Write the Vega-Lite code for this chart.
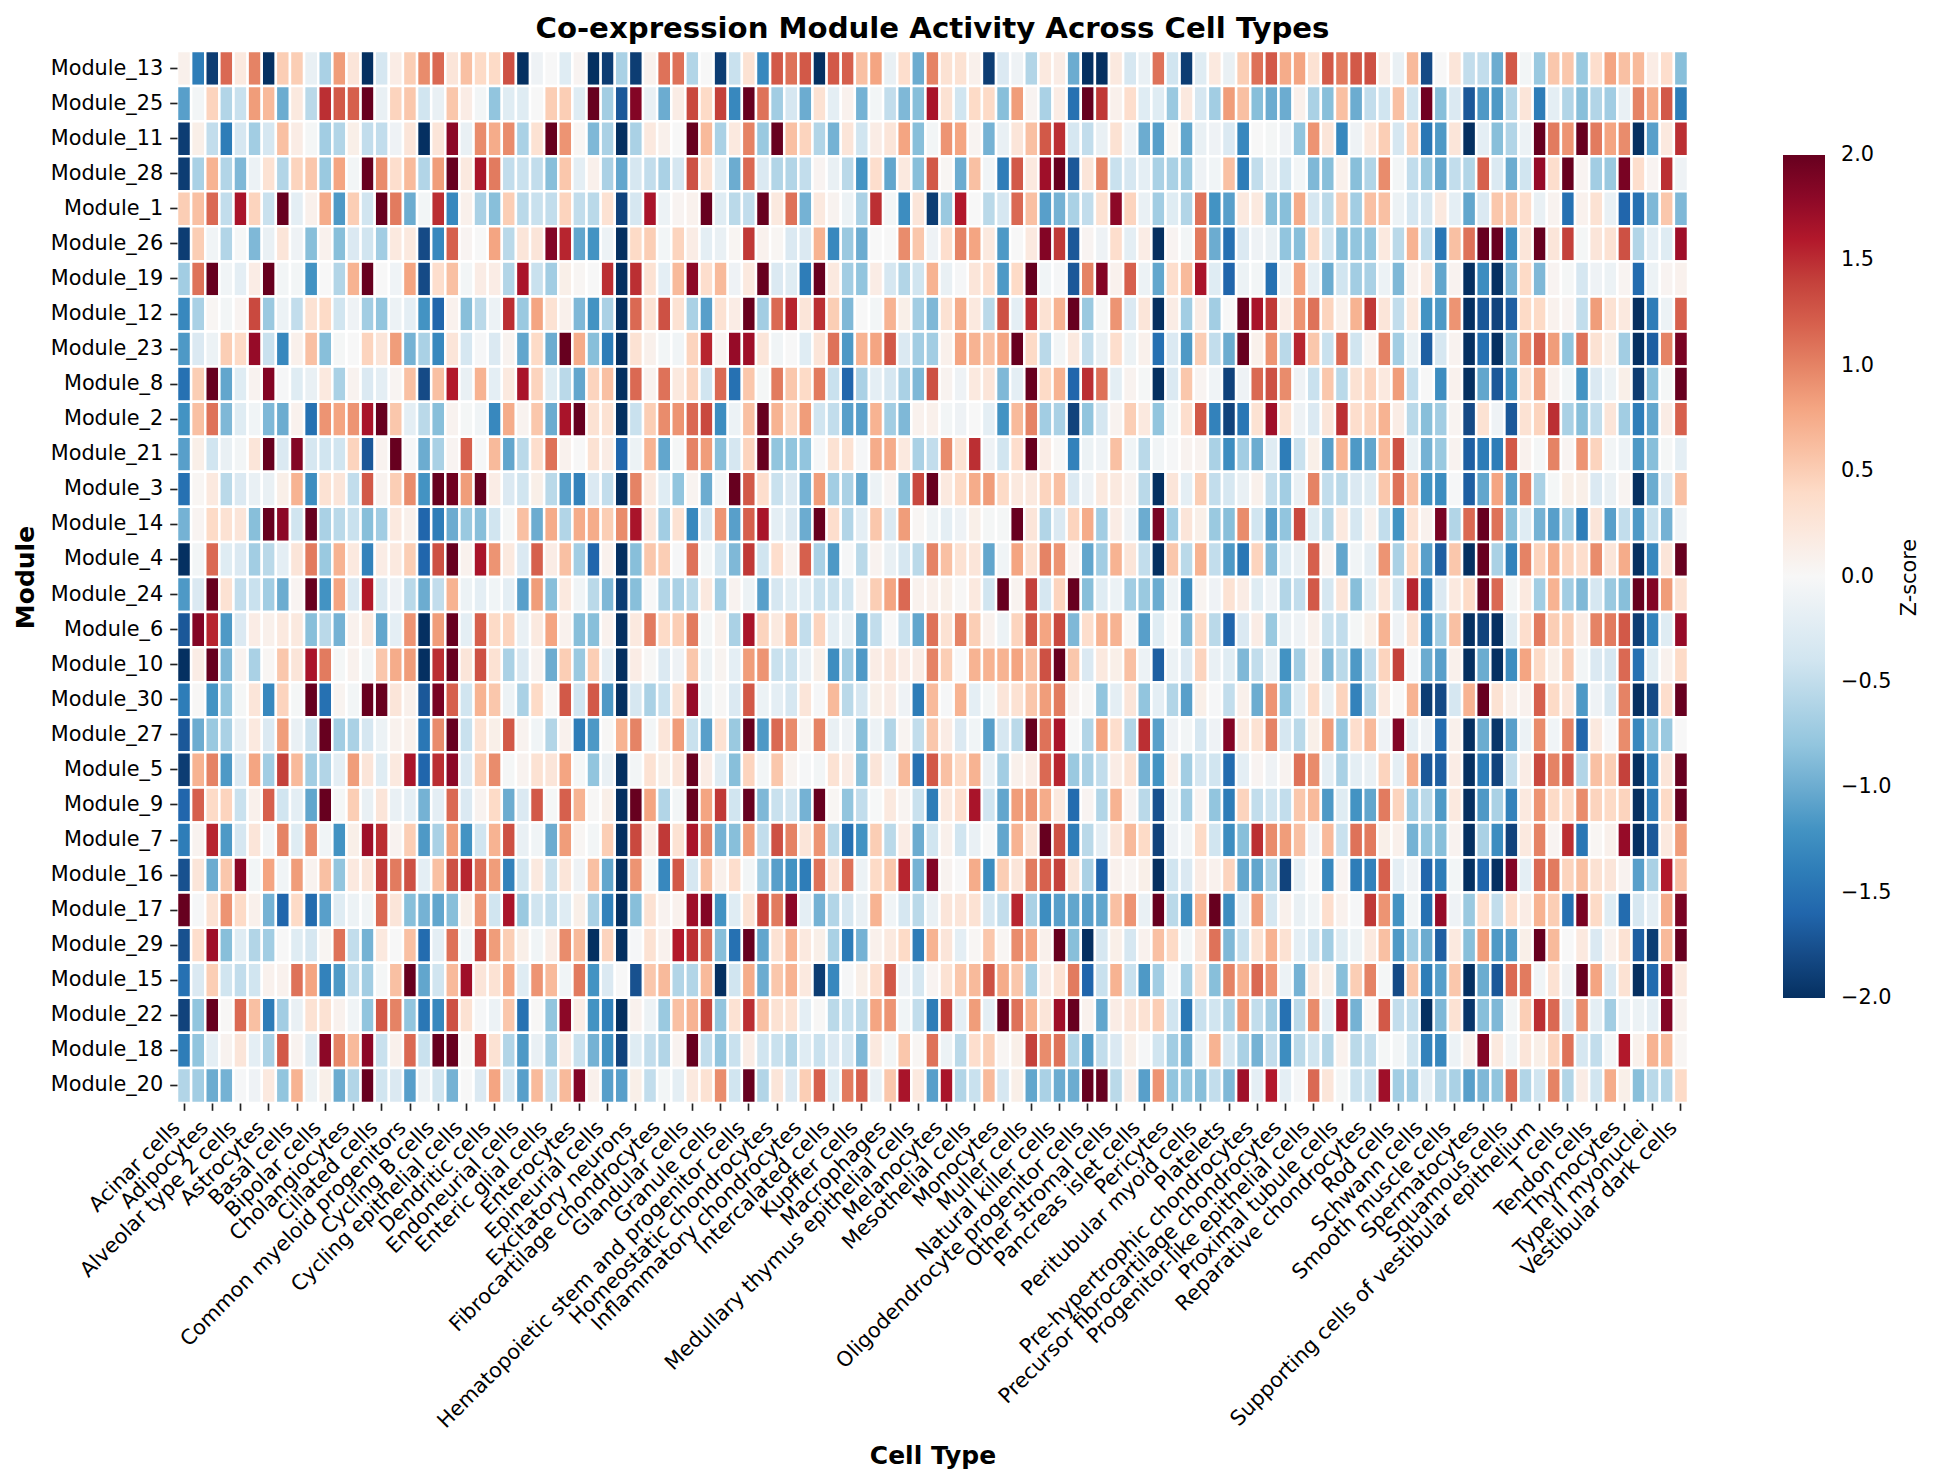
{"$schema":"https://vega.github.io/schema/vega-lite/v6.json","autosize":{"type":"none"},"padding":{"left":177,"top":51,"right":245,"bottom":378},"width":1511,"height":1052,"background":"white","title":{"text":"Co-expression Module Activity Across Cell Types","font":"DejaVu Sans","fontSize":29.2,"fontWeight":"bold","anchor":"middle","offset":6,"color":"black"},"config":{"view":{"stroke":null},"axis":{"labelFont":"DejaVu Sans","titleFont":"DejaVu Sans","labelFontSize":20.8,"titleFontSize":25,"titleFontWeight":"bold","tickSize":7.3,"tickWidth":1.67,"tickColor":"#222","labelColor":"black","titleColor":"black","domain":false,"grid":false,"labelPadding":7,"labelOverlap":false,"labelLimit":1000},"legend":{"labelFont":"DejaVu Sans","labelFontSize":20.8,"labelColor":"black"}},"data":{"values":[
{"m":13,"c":0,"z":0.1},{"m":13,"c":1,"z":-1.4},{"m":13,"c":2,"z":-1.9},{"m":13,"c":3,"z":1.15},{"m":13,"c":4,"z":0.2},{"m":13,"c":5,"z":1},{"m":13,"c":6,"z":-2},{"m":13,"c":7,"z":0.5},{"m":13,"c":8,"z":0.5},{"m":13,"c":9,"z":-0.15},{"m":13,"c":10,"z":-0.65},{"m":13,"c":11,"z":0.85},{"m":13,"c":12,"z":0.25},{"m":13,"c":13,"z":-2},{"m":13,"c":14,"z":-0.35},{"m":13,"c":15,"z":0.15},{"m":13,"c":16,"z":0.5},{"m":13,"c":17,"z":0.95},{"m":13,"c":18,"z":1.15},{"m":13,"c":19,"z":0.25},{"m":13,"c":20,"z":0.6},{"m":13,"c":21,"z":0.4},{"m":13,"c":22,"z":0.4},{"m":13,"c":23,"z":1.3},{"m":13,"c":24,"z":-2},{"m":13,"c":25,"z":-0.1},{"m":13,"c":26,"z":0},{"m":13,"c":27,"z":-0.25},{"m":13,"c":28,"z":0.05},{"m":13,"c":29,"z":-2},{"m":13,"c":30,"z":-1.9},{"m":13,"c":31,"z":-0.65},{"m":13,"c":32,"z":-1.9},{"m":13,"c":33,"z":0.08},{"m":13,"c":34,"z":1.1},{"m":13,"c":35,"z":1.1},{"m":13,"c":36,"z":-0.6},{"m":13,"c":37,"z":0},{"m":13,"c":38,"z":-1.9},{"m":13,"c":39,"z":-0.45},{"m":13,"c":40,"z":0.3},{"m":13,"c":41,"z":-1.3},{"m":13,"c":42,"z":1.25},{"m":13,"c":43,"z":1.1},{"m":13,"c":44,"z":1.25},{"m":13,"c":45,"z":-2},{"m":13,"c":46,"z":1.25},{"m":13,"c":47,"z":1.2},{"m":13,"c":48,"z":0.6},{"m":13,"c":49,"z":0.8},{"m":13,"c":50,"z":-0.15},{"m":13,"c":51,"z":0.35},{"m":13,"c":52,"z":-1},{"m":13,"c":53,"z":1},{"m":13,"c":54,"z":0.3},{"m":13,"c":55,"z":0.3},{"m":13,"c":56,"z":0.1},{"m":13,"c":57,"z":-1.9},{"m":13,"c":58,"z":-0.3},{"m":13,"c":59,"z":-0.1},{"m":13,"c":60,"z":-0.6},{"m":13,"c":61,"z":0.2},{"m":13,"c":62,"z":0.15},{"m":13,"c":63,"z":-1},{"m":13,"c":64,"z":-2},{"m":13,"c":65,"z":-2},{"m":13,"c":66,"z":0.2},{"m":13,"c":67,"z":-0.35},{"m":13,"c":68,"z":-0.15},{"m":13,"c":69,"z":1.1},{"m":13,"c":70,"z":-0.4},{"m":13,"c":71,"z":-1.9},{"m":13,"c":72,"z":-0.25},{"m":13,"c":73,"z":0.2},{"m":13,"c":74,"z":-0.15},{"m":13,"c":75,"z":0.5},{"m":13,"c":76,"z":1.1},{"m":13,"c":77,"z":1.25},{"m":13,"c":78,"z":0.75},{"m":13,"c":79,"z":0.8},{"m":13,"c":80,"z":0.3},{"m":13,"c":81,"z":1.25},{"m":13,"c":82,"z":1.05},{"m":13,"c":83,"z":1.25},{"m":13,"c":84,"z":1.3},{"m":13,"c":85,"z":0.15},{"m":13,"c":86,"z":-0.15},{"m":13,"c":87,"z":0.65},{"m":13,"c":88,"z":-1.8},{"m":13,"c":89,"z":0},{"m":13,"c":90,"z":0.25},{"m":13,"c":91,"z":-0.5},{"m":13,"c":92,"z":-0.5},{"m":13,"c":93,"z":-1},{"m":13,"c":94,"z":1.25},{"m":13,"c":95,"z":-0.05},{"m":13,"c":96,"z":-0.75},{"m":13,"c":97,"z":0.55},{"m":13,"c":98,"z":0.55},{"m":13,"c":99,"z":-0.75},{"m":13,"c":100,"z":0.35},{"m":13,"c":101,"z":0.8},{"m":13,"c":102,"z":0.6},{"m":13,"c":103,"z":0.65},{"m":13,"c":104,"z":0.15},{"m":13,"c":105,"z":0.35},{"m":13,"c":106,"z":-0.85},
{"m":25,"c":0,"z":-1.1},{"m":25,"c":1,"z":-0.05},{"m":25,"c":2,"z":0.45},{"m":25,"c":3,"z":-0.6},{"m":25,"c":4,"z":-0.45},{"m":25,"c":5,"z":0.85},{"m":25,"c":6,"z":0.65},{"m":25,"c":7,"z":-1},{"m":25,"c":8,"z":0.2},{"m":25,"c":9,"z":-0.55},{"m":25,"c":10,"z":1.5},{"m":25,"c":11,"z":1.25},{"m":25,"c":12,"z":1.2},{"m":25,"c":13,"z":2},{"m":25,"c":14,"z":-0.15},{"m":25,"c":15,"z":0.45},{"m":25,"c":16,"z":0.55},{"m":25,"c":17,"z":-0.4},{"m":25,"c":18,"z":-0.15},{"m":25,"c":19,"z":0.55},{"m":25,"c":20,"z":0.15},{"m":25,"c":21,"z":-0.05},{"m":25,"c":22,"z":-0.8},{"m":25,"c":23,"z":-0.25},{"m":25,"c":24,"z":-0.25},{"m":25,"c":25,"z":0},{"m":25,"c":26,"z":0.5},{"m":25,"c":27,"z":0.5},{"m":25,"c":28,"z":-0.25},{"m":25,"c":29,"z":2},{"m":25,"c":30,"z":-0.7},{"m":25,"c":31,"z":-1.7},{"m":25,"c":32,"z":1.85},{"m":25,"c":33,"z":-0.15},{"m":25,"c":34,"z":-1},{"m":25,"c":35,"z":0.15},{"m":25,"c":36,"z":1.35},{"m":25,"c":37,"z":0.4},{"m":25,"c":38,"z":1.4},{"m":25,"c":39,"z":-1.3},{"m":25,"c":40,"z":2},{"m":25,"c":41,"z":1.1},{"m":25,"c":42,"z":-0.7},{"m":25,"c":43,"z":-0.35},{"m":25,"c":44,"z":-1},{"m":25,"c":45,"z":0.3},{"m":25,"c":46,"z":-0.2},{"m":25,"c":47,"z":0.08},{"m":25,"c":48,"z":-0.95},{"m":25,"c":49,"z":-0.05},{"m":25,"c":50,"z":-0.5},{"m":25,"c":51,"z":-0.9},{"m":25,"c":52,"z":-0.85},{"m":25,"c":53,"z":1.65},{"m":25,"c":54,"z":0.3},{"m":25,"c":55,"z":-0.4},{"m":25,"c":56,"z":0.4},{"m":25,"c":57,"z":0.4},{"m":25,"c":58,"z":-0.85},{"m":25,"c":59,"z":0.85},{"m":25,"c":60,"z":0.05},{"m":25,"c":61,"z":-0.65},{"m":25,"c":62,"z":0.15},{"m":25,"c":63,"z":-1.5},{"m":25,"c":64,"z":2},{"m":25,"c":65,"z":1.45},{"m":25,"c":66,"z":0.1},{"m":25,"c":67,"z":0.35},{"m":25,"c":68,"z":-0.25},{"m":25,"c":69,"z":-0.25},{"m":25,"c":70,"z":-0.75},{"m":25,"c":71,"z":0.2},{"m":25,"c":72,"z":-0.35},{"m":25,"c":73,"z":-0.7},{"m":25,"c":74,"z":0.85},{"m":25,"c":75,"z":0.6},{"m":25,"c":76,"z":-0.85},{"m":25,"c":77,"z":-1},{"m":25,"c":78,"z":-1},{"m":25,"c":79,"z":0.1},{"m":25,"c":80,"z":-0.65},{"m":25,"c":81,"z":-0.85},{"m":25,"c":82,"z":0.6},{"m":25,"c":83,"z":-1},{"m":25,"c":84,"z":-0.5},{"m":25,"c":85,"z":-0.4},{"m":25,"c":86,"z":0.6},{"m":25,"c":87,"z":-0.4},{"m":25,"c":88,"z":1.95},{"m":25,"c":89,"z":-0.85},{"m":25,"c":90,"z":-0.3},{"m":25,"c":91,"z":-1.7},{"m":25,"c":92,"z":-1.15},{"m":25,"c":93,"z":-1.15},{"m":25,"c":94,"z":-0.6},{"m":25,"c":95,"z":0.25},{"m":25,"c":96,"z":-1.4},{"m":25,"c":97,"z":-0.2},{"m":25,"c":98,"z":-0.6},{"m":25,"c":99,"z":-0.85},{"m":25,"c":100,"z":-0.6},{"m":25,"c":101,"z":-0.7},{"m":25,"c":102,"z":-0.15},{"m":25,"c":103,"z":1},{"m":25,"c":104,"z":0.75},{"m":25,"c":105,"z":1.25},{"m":25,"c":106,"z":-1.4},
{"m":11,"c":0,"z":-1.9},{"m":11,"c":1,"z":0.12},{"m":11,"c":2,"z":-0.5},{"m":11,"c":3,"z":-1.4},{"m":11,"c":4,"z":-0.35},{"m":11,"c":5,"z":-0.7},{"m":11,"c":6,"z":-0.35},{"m":11,"c":7,"z":0.6},{"m":11,"c":8,"z":0.15},{"m":11,"c":9,"z":-0.03},{"m":11,"c":10,"z":-0.7},{"m":11,"c":11,"z":-0.6},{"m":11,"c":12,"z":0.12},{"m":11,"c":13,"z":-0.5},{"m":11,"c":14,"z":-0.5},{"m":11,"c":15,"z":-0.1},{"m":11,"c":16,"z":0.25},{"m":11,"c":17,"z":-2},{"m":11,"c":18,"z":0.25},{"m":11,"c":19,"z":1.8},{"m":11,"c":20,"z":-0.15},{"m":11,"c":21,"z":0.95},{"m":11,"c":22,"z":0.75},{"m":11,"c":23,"z":0.95},{"m":11,"c":24,"z":-0.65},{"m":11,"c":25,"z":0.3},{"m":11,"c":26,"z":2},{"m":11,"c":27,"z":0.9},{"m":11,"c":28,"z":0.03},{"m":11,"c":29,"z":-0.9},{"m":11,"c":30,"z":-0.65},{"m":11,"c":31,"z":-2},{"m":11,"c":32,"z":-0.65},{"m":11,"c":33,"z":0.2},{"m":11,"c":34,"z":0.1},{"m":11,"c":35,"z":0},{"m":11,"c":36,"z":2},{"m":11,"c":37,"z":0.65},{"m":11,"c":38,"z":-0.65},{"m":11,"c":39,"z":0.2},{"m":11,"c":40,"z":1},{"m":11,"c":41,"z":-0.75},{"m":11,"c":42,"z":2},{"m":11,"c":43,"z":0.6},{"m":11,"c":44,"z":0.45},{"m":11,"c":45,"z":-0.6},{"m":11,"c":46,"z":-0.95},{"m":11,"c":47,"z":0.25},{"m":11,"c":48,"z":-0.4},{"m":11,"c":49,"z":0.15},{"m":11,"c":50,"z":0.25},{"m":11,"c":51,"z":0.8},{"m":11,"c":52,"z":-0.85},{"m":11,"c":53,"z":-0.05},{"m":11,"c":54,"z":0.9},{"m":11,"c":55,"z":0.8},{"m":11,"c":56,"z":0.05},{"m":11,"c":57,"z":-0.95},{"m":11,"c":58,"z":-0.15},{"m":11,"c":59,"z":0.25},{"m":11,"c":60,"z":0.6},{"m":11,"c":61,"z":1.25},{"m":11,"c":62,"z":1.5},{"m":11,"c":63,"z":-0.35},{"m":11,"c":64,"z":-0.5},{"m":11,"c":65,"z":-0.15},{"m":11,"c":66,"z":0.3},{"m":11,"c":67,"z":-0.1},{"m":11,"c":68,"z":-1},{"m":11,"c":69,"z":-1.1},{"m":11,"c":70,"z":0.03},{"m":11,"c":71,"z":-1.05},{"m":11,"c":72,"z":-0.15},{"m":11,"c":73,"z":-0.1},{"m":11,"c":74,"z":-0.3},{"m":11,"c":75,"z":-1.3},{"m":11,"c":76,"z":0},{"m":11,"c":77,"z":-0.03},{"m":11,"c":78,"z":-0.1},{"m":11,"c":79,"z":-0.8},{"m":11,"c":80,"z":0.9},{"m":11,"c":81,"z":0.25},{"m":11,"c":82,"z":-1.3},{"m":11,"c":83,"z":-0.1},{"m":11,"c":84,"z":0.2},{"m":11,"c":85,"z":0.5},{"m":11,"c":86,"z":-0.35},{"m":11,"c":87,"z":0.45},{"m":11,"c":88,"z":-1.45},{"m":11,"c":89,"z":-1.15},{"m":11,"c":90,"z":0.25},{"m":11,"c":91,"z":-2},{"m":11,"c":92,"z":-0.2},{"m":11,"c":93,"z":-0.85},{"m":11,"c":94,"z":-0.6},{"m":11,"c":95,"z":-0.12},{"m":11,"c":96,"z":2},{"m":11,"c":97,"z":1.05},{"m":11,"c":98,"z":0.9},{"m":11,"c":99,"z":2},{"m":11,"c":100,"z":1.05},{"m":11,"c":101,"z":0.8},{"m":11,"c":102,"z":0.95},{"m":11,"c":103,"z":-2},{"m":11,"c":104,"z":-1.1},{"m":11,"c":105,"z":0.2},{"m":11,"c":106,"z":1.5},
{"m":28,"c":0,"z":-1.9},{"m":28,"c":1,"z":-0.65},{"m":28,"c":2,"z":0.7},{"m":28,"c":3,"z":-0.6},{"m":28,"c":4,"z":-0.9},{"m":28,"c":5,"z":-0.12},{"m":28,"c":6,"z":0.3},{"m":28,"c":7,"z":-0.6},{"m":28,"c":8,"z":0.45},{"m":28,"c":9,"z":0.55},{"m":28,"c":10,"z":-0.75},{"m":28,"c":11,"z":0.8},{"m":28,"c":12,"z":-0.05},{"m":28,"c":13,"z":2},{"m":28,"c":14,"z":0.95},{"m":28,"c":15,"z":0.35},{"m":28,"c":16,"z":0.65},{"m":28,"c":17,"z":-0.6},{"m":28,"c":18,"z":0.85},{"m":28,"c":19,"z":2},{"m":28,"c":20,"z":0.2},{"m":28,"c":21,"z":1.65},{"m":28,"c":22,"z":1.05},{"m":28,"c":23,"z":-0.5},{"m":28,"c":24,"z":-0.45},{"m":28,"c":25,"z":-0.5},{"m":28,"c":26,"z":-0.85},{"m":28,"c":27,"z":0.55},{"m":28,"c":28,"z":-0.2},{"m":28,"c":29,"z":0.1},{"m":28,"c":30,"z":-0.65},{"m":28,"c":31,"z":-1.05},{"m":28,"c":32,"z":-0.35},{"m":28,"c":33,"z":-0.5},{"m":28,"c":34,"z":-0.65},{"m":28,"c":35,"z":-0.35},{"m":28,"c":36,"z":1.3},{"m":28,"c":37,"z":0.3},{"m":28,"c":38,"z":-0.25},{"m":28,"c":39,"z":-1},{"m":28,"c":40,"z":1.15},{"m":28,"c":41,"z":-0.3},{"m":28,"c":42,"z":-0.6},{"m":28,"c":43,"z":-0.6},{"m":28,"c":44,"z":-0.5},{"m":28,"c":45,"z":0.05},{"m":28,"c":46,"z":-0.15},{"m":28,"c":47,"z":-0.55},{"m":28,"c":48,"z":-1.2},{"m":28,"c":49,"z":0.35},{"m":28,"c":50,"z":-1.05},{"m":28,"c":51,"z":0.2},{"m":28,"c":52,"z":-0.85},{"m":28,"c":53,"z":1.25},{"m":28,"c":54,"z":0.03},{"m":28,"c":55,"z":-1},{"m":28,"c":56,"z":0.6},{"m":28,"c":57,"z":-0.07},{"m":28,"c":58,"z":-1.4},{"m":28,"c":59,"z":1.25},{"m":28,"c":60,"z":0.2},{"m":28,"c":61,"z":1.7},{"m":28,"c":62,"z":2},{"m":28,"c":63,"z":-1.7},{"m":28,"c":64,"z":0.25},{"m":28,"c":65,"z":1},{"m":28,"c":66,"z":-0.45},{"m":28,"c":67,"z":-0.35},{"m":28,"c":68,"z":-0.2},{"m":28,"c":69,"z":-0.65},{"m":28,"c":70,"z":-0.65},{"m":28,"c":71,"z":-0.75},{"m":28,"c":72,"z":-0.1},{"m":28,"c":73,"z":-0.07},{"m":28,"c":74,"z":0.6},{"m":28,"c":75,"z":-1.4},{"m":28,"c":76,"z":-0.5},{"m":28,"c":77,"z":-0.15},{"m":28,"c":78,"z":-0.4},{"m":28,"c":79,"z":-0.05},{"m":28,"c":80,"z":-0.9},{"m":28,"c":81,"z":-0.85},{"m":28,"c":82,"z":0.1},{"m":28,"c":83,"z":-0.85},{"m":28,"c":84,"z":-0.6},{"m":28,"c":85,"z":0.95},{"m":28,"c":86,"z":-0.05},{"m":28,"c":87,"z":-0.5},{"m":28,"c":88,"z":-0.75},{"m":28,"c":89,"z":-1.05},{"m":28,"c":90,"z":-0.5},{"m":28,"c":91,"z":-0.6},{"m":28,"c":92,"z":1.2},{"m":28,"c":93,"z":-0.3},{"m":28,"c":94,"z":-1},{"m":28,"c":95,"z":-0.4},{"m":28,"c":96,"z":1.75},{"m":28,"c":97,"z":0.35},{"m":28,"c":98,"z":2},{"m":28,"c":99,"z":0.05},{"m":28,"c":100,"z":-0.7},{"m":28,"c":101,"z":-0.75},{"m":28,"c":102,"z":1.9},{"m":28,"c":103,"z":0.35},{"m":28,"c":104,"z":0.05},{"m":28,"c":105,"z":1.5},{"m":28,"c":106,"z":-0.1},
{"m":1,"c":0,"z":0.5},{"m":1,"c":1,"z":0.6},{"m":1,"c":2,"z":1.15},{"m":1,"c":3,"z":-0.5},{"m":1,"c":4,"z":1.65},{"m":1,"c":5,"z":0.45},{"m":1,"c":6,"z":-0.45},{"m":1,"c":7,"z":2},{"m":1,"c":8,"z":-0.2},{"m":1,"c":9,"z":0.1},{"m":1,"c":10,"z":0.75},{"m":1,"c":11,"z":-1.15},{"m":1,"c":12,"z":0.5},{"m":1,"c":13,"z":-0.4},{"m":1,"c":14,"z":2},{"m":1,"c":15,"z":1.05},{"m":1,"c":16,"z":-1},{"m":1,"c":17,"z":-0.05},{"m":1,"c":18,"z":1.5},{"m":1,"c":19,"z":-1.3},{"m":1,"c":20,"z":0.1},{"m":1,"c":21,"z":-0.65},{"m":1,"c":22,"z":-0.85},{"m":1,"c":23,"z":0.5},{"m":1,"c":24,"z":-0.55},{"m":1,"c":25,"z":-0.45},{"m":1,"c":26,"z":-0.5},{"m":1,"c":27,"z":0.45},{"m":1,"c":28,"z":-0.5},{"m":1,"c":29,"z":-0.55},{"m":1,"c":30,"z":0.3},{"m":1,"c":31,"z":-1.85},{"m":1,"c":32,"z":-0.35},{"m":1,"c":33,"z":1.65},{"m":1,"c":34,"z":-0.12},{"m":1,"c":35,"z":0.05},{"m":1,"c":36,"z":0.08},{"m":1,"c":37,"z":2},{"m":1,"c":38,"z":-0.25},{"m":1,"c":39,"z":-0.55},{"m":1,"c":40,"z":-0.5},{"m":1,"c":41,"z":2},{"m":1,"c":42,"z":0.2},{"m":1,"c":43,"z":1.1},{"m":1,"c":44,"z":-0.95},{"m":1,"c":45,"z":0.2},{"m":1,"c":46,"z":0.07},{"m":1,"c":47,"z":-0.12},{"m":1,"c":48,"z":-0.65},{"m":1,"c":49,"z":1.5},{"m":1,"c":50,"z":-0.05},{"m":1,"c":51,"z":-1.25},{"m":1,"c":52,"z":0.25},{"m":1,"c":53,"z":-1.9},{"m":1,"c":54,"z":-0.75},{"m":1,"c":55,"z":1.6},{"m":1,"c":56,"z":0},{"m":1,"c":57,"z":-0.55},{"m":1,"c":58,"z":-0.35},{"m":1,"c":59,"z":1.15},{"m":1,"c":60,"z":0.6},{"m":1,"c":61,"z":-1.1},{"m":1,"c":62,"z":-0.95},{"m":1,"c":63,"z":-0.65},{"m":1,"c":64,"z":-0.5},{"m":1,"c":65,"z":0.3},{"m":1,"c":66,"z":1.8},{"m":1,"c":67,"z":0.45},{"m":1,"c":68,"z":-0.15},{"m":1,"c":69,"z":-0.7},{"m":1,"c":70,"z":-0.25},{"m":1,"c":71,"z":-0.6},{"m":1,"c":72,"z":1.1},{"m":1,"c":73,"z":-1.2},{"m":1,"c":74,"z":-1.1},{"m":1,"c":75,"z":0.2},{"m":1,"c":76,"z":0.2},{"m":1,"c":77,"z":-0.85},{"m":1,"c":78,"z":-0.85},{"m":1,"c":79,"z":0.75},{"m":1,"c":80,"z":-0.35},{"m":1,"c":81,"z":-0.55},{"m":1,"c":82,"z":0.5},{"m":1,"c":83,"z":-0.7},{"m":1,"c":84,"z":0.6},{"m":1,"c":85,"z":0.6},{"m":1,"c":86,"z":-0.12},{"m":1,"c":87,"z":-0.35},{"m":1,"c":88,"z":-0.35},{"m":1,"c":89,"z":0.2},{"m":1,"c":90,"z":-0.2},{"m":1,"c":91,"z":-1.05},{"m":1,"c":92,"z":-0.3},{"m":1,"c":93,"z":0.55},{"m":1,"c":94,"z":0.55},{"m":1,"c":95,"z":0.35},{"m":1,"c":96,"z":-0.15},{"m":1,"c":97,"z":0.07},{"m":1,"c":98,"z":-1.5},{"m":1,"c":99,"z":0.08},{"m":1,"c":100,"z":0.3},{"m":1,"c":101,"z":-0.15},{"m":1,"c":102,"z":-1.6},{"m":1,"c":103,"z":-1.5},{"m":1,"c":104,"z":-0.9},{"m":1,"c":105,"z":0.55},{"m":1,"c":106,"z":-0.9},
{"m":26,"c":0,"z":-1.9},{"m":26,"c":1,"z":0.5},{"m":26,"c":2,"z":-0.07},{"m":26,"c":3,"z":-0.6},{"m":26,"c":4,"z":-0.03},{"m":26,"c":5,"z":-0.9},{"m":26,"c":6,"z":-0.15},{"m":26,"c":7,"z":0.25},{"m":26,"c":8,"z":-0.1},{"m":26,"c":9,"z":-0.85},{"m":26,"c":10,"z":0.08},{"m":26,"c":11,"z":-0.85},{"m":26,"c":12,"z":-0.3},{"m":26,"c":13,"z":-0.4},{"m":26,"c":14,"z":-0.7},{"m":26,"c":15,"z":0.2},{"m":26,"c":16,"z":0.2},{"m":26,"c":17,"z":-1.8},{"m":26,"c":18,"z":-1.3},{"m":26,"c":19,"z":1.2},{"m":26,"c":20,"z":0.05},{"m":26,"c":21,"z":0},{"m":26,"c":22,"z":0.8},{"m":26,"c":23,"z":-0.55},{"m":26,"c":24,"z":0.25},{"m":26,"c":25,"z":0.25},{"m":26,"c":26,"z":1.85},{"m":26,"c":27,"z":1.55},{"m":26,"c":28,"z":-1.05},{"m":26,"c":29,"z":-1.2},{"m":26,"c":30,"z":-0.12},{"m":26,"c":31,"z":-2},{"m":26,"c":32,"z":0.4},{"m":26,"c":33,"z":0.5},{"m":26,"c":34,"z":-0.05},{"m":26,"c":35,"z":0.45},{"m":26,"c":36,"z":0.15},{"m":26,"c":37,"z":-0.2},{"m":26,"c":38,"z":-0.15},{"m":26,"c":39,"z":0.04},{"m":26,"c":40,"z":1.45},{"m":26,"c":41,"z":0.08},{"m":26,"c":42,"z":0.03},{"m":26,"c":43,"z":-0.3},{"m":26,"c":44,"z":-0.3},{"m":26,"c":45,"z":0.7},{"m":26,"c":46,"z":-1.3},{"m":26,"c":47,"z":-0.75},{"m":26,"c":48,"z":-1},{"m":26,"c":49,"z":0},{"m":26,"c":50,"z":0},{"m":26,"c":51,"z":0.95},{"m":26,"c":52,"z":0.55},{"m":26,"c":53,"z":-0.1},{"m":26,"c":54,"z":0.35},{"m":26,"c":55,"z":1},{"m":26,"c":56,"z":0.8},{"m":26,"c":57,"z":0.2},{"m":26,"c":58,"z":-1.15},{"m":26,"c":59,"z":0},{"m":26,"c":60,"z":0.2},{"m":26,"c":61,"z":1.85},{"m":26,"c":62,"z":1.45},{"m":26,"c":63,"z":-1.7},{"m":26,"c":64,"z":0.05},{"m":26,"c":65,"z":-0.1},{"m":26,"c":66,"z":0.35},{"m":26,"c":67,"z":-0.2},{"m":26,"c":68,"z":0.15},{"m":26,"c":69,"z":-2},{"m":26,"c":70,"z":0.05},{"m":26,"c":71,"z":-0.05},{"m":26,"c":72,"z":1.05},{"m":26,"c":73,"z":-1},{"m":26,"c":74,"z":-1.5},{"m":26,"c":75,"z":-0.3},{"m":26,"c":76,"z":-0.1},{"m":26,"c":77,"z":-0.15},{"m":26,"c":78,"z":-0.8},{"m":26,"c":79,"z":-0.85},{"m":26,"c":80,"z":0.4},{"m":26,"c":81,"z":-0.4},{"m":26,"c":82,"z":-0.85},{"m":26,"c":83,"z":-0.8},{"m":26,"c":84,"z":-0.8},{"m":26,"c":85,"z":0.2},{"m":26,"c":86,"z":-0.55},{"m":26,"c":87,"z":0.7},{"m":26,"c":88,"z":-0.5},{"m":26,"c":89,"z":-1.45},{"m":26,"c":90,"z":0.6},{"m":26,"c":91,"z":1.1},{"m":26,"c":92,"z":2},{"m":26,"c":93,"z":2},{"m":26,"c":94,"z":-1.25},{"m":26,"c":95,"z":0.25},{"m":26,"c":96,"z":2},{"m":26,"c":97,"z":0.25},{"m":26,"c":98,"z":1.4},{"m":26,"c":99,"z":-0.03},{"m":26,"c":100,"z":0.25},{"m":26,"c":101,"z":0.3},{"m":26,"c":102,"z":1.3},{"m":26,"c":103,"z":-0.6},{"m":26,"c":104,"z":-0.2},{"m":26,"c":105,"z":-0.25},{"m":26,"c":106,"z":1.7},
{"m":19,"c":0,"z":-0.7},{"m":19,"c":1,"z":1.1},{"m":19,"c":2,"z":2},{"m":19,"c":3,"z":-0.07},{"m":19,"c":4,"z":-0.2},{"m":19,"c":5,"z":0.15},{"m":19,"c":6,"z":2},{"m":19,"c":7,"z":-0.05},{"m":19,"c":8,"z":-0.05},{"m":19,"c":9,"z":-1.2},{"m":19,"c":10,"z":0},{"m":19,"c":11,"z":-0.6},{"m":19,"c":12,"z":0.7},{"m":19,"c":13,"z":2},{"m":19,"c":14,"z":0},{"m":19,"c":15,"z":-0.08},{"m":19,"c":16,"z":0.8},{"m":19,"c":17,"z":-1.8},{"m":19,"c":18,"z":0.35},{"m":19,"c":19,"z":0.6},{"m":19,"c":20,"z":-0.05},{"m":19,"c":21,"z":0.15},{"m":19,"c":22,"z":0.15},{"m":19,"c":23,"z":-0.6},{"m":19,"c":24,"z":1.65},{"m":19,"c":25,"z":-0.45},{"m":19,"c":26,"z":-0.7},{"m":19,"c":27,"z":0.12},{"m":19,"c":28,"z":0.03},{"m":19,"c":29,"z":0},{"m":19,"c":30,"z":1.5},{"m":19,"c":31,"z":-2},{"m":19,"c":32,"z":1.5},{"m":19,"c":33,"z":0.3},{"m":19,"c":34,"z":-0.2},{"m":19,"c":35,"z":0.65},{"m":19,"c":36,"z":1.8},{"m":19,"c":37,"z":0.35},{"m":19,"c":38,"z":0.65},{"m":19,"c":39,"z":-0.1},{"m":19,"c":40,"z":0.2},{"m":19,"c":41,"z":2},{"m":19,"c":42,"z":-0.3},{"m":19,"c":43,"z":-0.25},{"m":19,"c":44,"z":-1.4},{"m":19,"c":45,"z":2},{"m":19,"c":46,"z":0.2},{"m":19,"c":47,"z":-0.7},{"m":19,"c":48,"z":-0.8},{"m":19,"c":49,"z":0.15},{"m":19,"c":50,"z":-0.35},{"m":19,"c":51,"z":-0.6},{"m":19,"c":52,"z":-0.4},{"m":19,"c":53,"z":0.7},{"m":19,"c":54,"z":-0.15},{"m":19,"c":55,"z":-0.02},{"m":19,"c":56,"z":0.25},{"m":19,"c":57,"z":0.35},{"m":19,"c":58,"z":-1.15},{"m":19,"c":59,"z":0.4},{"m":19,"c":60,"z":2},{"m":19,"c":61,"z":-0.07},{"m":19,"c":62,"z":-0.02},{"m":19,"c":63,"z":-1.7},{"m":19,"c":64,"z":1},{"m":19,"c":65,"z":1.85},{"m":19,"c":66,"z":0.08},{"m":19,"c":67,"z":1.2},{"m":19,"c":68,"z":-0.12},{"m":19,"c":69,"z":-1.05},{"m":19,"c":70,"z":0.35},{"m":19,"c":71,"z":0.65},{"m":19,"c":72,"z":1.65},{"m":19,"c":73,"z":-0.25},{"m":19,"c":74,"z":-1.6},{"m":19,"c":75,"z":-0.12},{"m":19,"c":76,"z":-0.05},{"m":19,"c":77,"z":-1.5},{"m":19,"c":78,"z":-0.12},{"m":19,"c":79,"z":0.8},{"m":19,"c":80,"z":-0.2},{"m":19,"c":81,"z":-1},{"m":19,"c":82,"z":-0.4},{"m":19,"c":83,"z":-0.7},{"m":19,"c":84,"z":-0.65},{"m":19,"c":85,"z":-0.12},{"m":19,"c":86,"z":-0.9},{"m":19,"c":87,"z":0.07},{"m":19,"c":88,"z":0.2},{"m":19,"c":89,"z":-1.05},{"m":19,"c":90,"z":0.07},{"m":19,"c":91,"z":-2},{"m":19,"c":92,"z":-1.25},{"m":19,"c":93,"z":-2},{"m":19,"c":94,"z":-0.95},{"m":19,"c":95,"z":0.4},{"m":19,"c":96,"z":-0.9},{"m":19,"c":97,"z":0.05},{"m":19,"c":98,"z":-0.03},{"m":19,"c":99,"z":-0.35},{"m":19,"c":100,"z":-0.1},{"m":19,"c":101,"z":-0.12},{"m":19,"c":102,"z":0.05},{"m":19,"c":103,"z":-1.55},{"m":19,"c":104,"z":-0.12},{"m":19,"c":105,"z":0.05},{"m":19,"c":106,"z":0.08},
{"m":12,"c":0,"z":-1.3},{"m":12,"c":1,"z":-0.65},{"m":12,"c":2,"z":0.03},{"m":12,"c":3,"z":-0.05},{"m":12,"c":4,"z":0.05},{"m":12,"c":5,"z":1.35},{"m":12,"c":6,"z":-0.75},{"m":12,"c":7,"z":-0.12},{"m":12,"c":8,"z":-0.5},{"m":12,"c":9,"z":0.3},{"m":12,"c":10,"z":0.4},{"m":12,"c":11,"z":-0.4},{"m":12,"c":12,"z":-0.1},{"m":12,"c":13,"z":-0.7},{"m":12,"c":14,"z":-0.8},{"m":12,"c":15,"z":-0.12},{"m":12,"c":16,"z":-0.2},{"m":12,"c":17,"z":-1.2},{"m":12,"c":18,"z":-1.6},{"m":12,"c":19,"z":0.08},{"m":12,"c":20,"z":-0.85},{"m":12,"c":21,"z":-0.55},{"m":12,"c":22,"z":-0.12},{"m":12,"c":23,"z":1.5},{"m":12,"c":24,"z":-0.75},{"m":12,"c":25,"z":0.8},{"m":12,"c":26,"z":0.3},{"m":12,"c":27,"z":0.1},{"m":12,"c":28,"z":-0.9},{"m":12,"c":29,"z":-1.2},{"m":12,"c":30,"z":-0.65},{"m":12,"c":31,"z":-2},{"m":12,"c":32,"z":1.15},{"m":12,"c":33,"z":0.3},{"m":12,"c":34,"z":1.3},{"m":12,"c":35,"z":0.3},{"m":12,"c":36,"z":-0.65},{"m":12,"c":37,"z":-1.1},{"m":12,"c":38,"z":0.3},{"m":12,"c":39,"z":0.15},{"m":12,"c":40,"z":2},{"m":12,"c":41,"z":-0.7},{"m":12,"c":42,"z":1.15},{"m":12,"c":43,"z":1.55},{"m":12,"c":44,"z":0.25},{"m":12,"c":45,"z":1.5},{"m":12,"c":46,"z":0.5},{"m":12,"c":47,"z":-0.9},{"m":12,"c":48,"z":0},{"m":12,"c":49,"z":-0.05},{"m":12,"c":50,"z":0.7},{"m":12,"c":51,"z":0.12},{"m":12,"c":52,"z":-0.7},{"m":12,"c":53,"z":-0.9},{"m":12,"c":54,"z":0.3},{"m":12,"c":55,"z":0.75},{"m":12,"c":56,"z":0.2},{"m":12,"c":57,"z":-0.55},{"m":12,"c":58,"z":1.3},{"m":12,"c":59,"z":-0.2},{"m":12,"c":60,"z":1.5},{"m":12,"c":61,"z":0.3},{"m":12,"c":62,"z":0.7},{"m":12,"c":63,"z":2},{"m":12,"c":64,"z":-0.75},{"m":12,"c":65,"z":-0.03},{"m":12,"c":66,"z":0.9},{"m":12,"c":67,"z":-0.3},{"m":12,"c":68,"z":0.25},{"m":12,"c":69,"z":-2},{"m":12,"c":70,"z":0.15},{"m":12,"c":71,"z":-0.7},{"m":12,"c":72,"z":0.15},{"m":12,"c":73,"z":-0.7},{"m":12,"c":74,"z":0},{"m":12,"c":75,"z":2},{"m":12,"c":76,"z":1.65},{"m":12,"c":77,"z":1.45},{"m":12,"c":78,"z":0.15},{"m":12,"c":79,"z":0.9},{"m":12,"c":80,"z":1.1},{"m":12,"c":81,"z":0.45},{"m":12,"c":82,"z":0.1},{"m":12,"c":83,"z":0.7},{"m":12,"c":84,"z":1.45},{"m":12,"c":85,"z":0.25},{"m":12,"c":86,"z":-0.5},{"m":12,"c":87,"z":0.2},{"m":12,"c":88,"z":-1.2},{"m":12,"c":89,"z":-1.15},{"m":12,"c":90,"z":0.9},{"m":12,"c":91,"z":-2},{"m":12,"c":92,"z":-1.7},{"m":12,"c":93,"z":-1.85},{"m":12,"c":94,"z":-1.65},{"m":12,"c":95,"z":0.4},{"m":12,"c":96,"z":0.4},{"m":12,"c":97,"z":0.08},{"m":12,"c":98,"z":0.05},{"m":12,"c":99,"z":-0.5},{"m":12,"c":100,"z":0.85},{"m":12,"c":101,"z":0.3},{"m":12,"c":102,"z":0.2},{"m":12,"c":103,"z":-2},{"m":12,"c":104,"z":-1.4},{"m":12,"c":105,"z":-0.12},{"m":12,"c":106,"z":1.2},
{"m":23,"c":0,"z":-1.15},{"m":23,"c":1,"z":-0.3},{"m":23,"c":2,"z":-0.12},{"m":23,"c":3,"z":0.5},{"m":23,"c":4,"z":0.4},{"m":23,"c":5,"z":1.75},{"m":23,"c":6,"z":-0.45},{"m":23,"c":7,"z":-1.3},{"m":23,"c":8,"z":0.1},{"m":23,"c":9,"z":0.6},{"m":23,"c":10,"z":-0.85},{"m":23,"c":11,"z":-0.03},{"m":23,"c":12,"z":0},{"m":23,"c":13,"z":0.45},{"m":23,"c":14,"z":0.25},{"m":23,"c":15,"z":0.85},{"m":23,"c":16,"z":-0.95},{"m":23,"c":17,"z":-0.65},{"m":23,"c":18,"z":-1.3},{"m":23,"c":19,"z":0.25},{"m":23,"c":20,"z":-0.35},{"m":23,"c":21,"z":-0.02},{"m":23,"c":22,"z":-0.3},{"m":23,"c":23,"z":0.07},{"m":23,"c":24,"z":-1.05},{"m":23,"c":25,"z":0.4},{"m":23,"c":26,"z":-1},{"m":23,"c":27,"z":2},{"m":23,"c":28,"z":0.75},{"m":23,"c":29,"z":-0.85},{"m":23,"c":30,"z":-1.4},{"m":23,"c":31,"z":-2},{"m":23,"c":32,"z":0.3},{"m":23,"c":33,"z":0.1},{"m":23,"c":34,"z":-0.05},{"m":23,"c":35,"z":-0.07},{"m":23,"c":36,"z":0.45},{"m":23,"c":37,"z":1.55},{"m":23,"c":38,"z":0.06},{"m":23,"c":39,"z":1.75},{"m":23,"c":40,"z":1.7},{"m":23,"c":41,"z":0.25},{"m":23,"c":42,"z":-0.07},{"m":23,"c":43,"z":0},{"m":23,"c":44,"z":-0.25},{"m":23,"c":45,"z":0.25},{"m":23,"c":46,"z":1.1},{"m":23,"c":47,"z":-1.15},{"m":23,"c":48,"z":0.7},{"m":23,"c":49,"z":0.8},{"m":23,"c":50,"z":1.25},{"m":23,"c":51,"z":-0.3},{"m":23,"c":52,"z":-0.7},{"m":23,"c":53,"z":-0.7},{"m":23,"c":54,"z":0.1},{"m":23,"c":55,"z":0.8},{"m":23,"c":56,"z":0.7},{"m":23,"c":57,"z":0.6},{"m":23,"c":58,"z":0.8},{"m":23,"c":59,"z":2},{"m":23,"c":60,"z":0.4},{"m":23,"c":61,"z":-0.55},{"m":23,"c":62,"z":-0.05},{"m":23,"c":63,"z":0.2},{"m":23,"c":64,"z":-0.5},{"m":23,"c":65,"z":-0.15},{"m":23,"c":66,"z":0.35},{"m":23,"c":67,"z":-0.12},{"m":23,"c":68,"z":0.1},{"m":23,"c":69,"z":-1.5},{"m":23,"c":70,"z":-0.3},{"m":23,"c":71,"z":-1.15},{"m":23,"c":72,"z":0.5},{"m":23,"c":73,"z":-0.5},{"m":23,"c":74,"z":-1},{"m":23,"c":75,"z":2},{"m":23,"c":76,"z":0.1},{"m":23,"c":77,"z":0.9},{"m":23,"c":78,"z":-0.55},{"m":23,"c":79,"z":1.55},{"m":23,"c":80,"z":0.55},{"m":23,"c":81,"z":-0.45},{"m":23,"c":82,"z":1.15},{"m":23,"c":83,"z":-0.4},{"m":23,"c":84,"z":0.06},{"m":23,"c":85,"z":1},{"m":23,"c":86,"z":-0.7},{"m":23,"c":87,"z":-0.15},{"m":23,"c":88,"z":-1.65},{"m":23,"c":89,"z":-0.35},{"m":23,"c":90,"z":0.07},{"m":23,"c":91,"z":-2},{"m":23,"c":92,"z":-1.5},{"m":23,"c":93,"z":-2},{"m":23,"c":94,"z":-0.9},{"m":23,"c":95,"z":0.9},{"m":23,"c":96,"z":1.2},{"m":23,"c":97,"z":0.85},{"m":23,"c":98,"z":-0.8},{"m":23,"c":99,"z":1.1},{"m":23,"c":100,"z":0.3},{"m":23,"c":101,"z":0.12},{"m":23,"c":102,"z":-0.7},{"m":23,"c":103,"z":-2},{"m":23,"c":104,"z":-1.65},{"m":23,"c":105,"z":1},{"m":23,"c":106,"z":1.9},
{"m":8,"c":0,"z":-1.5},{"m":8,"c":1,"z":0.5},{"m":8,"c":2,"z":2},{"m":8,"c":3,"z":-1.05},{"m":8,"c":4,"z":-0.25},{"m":8,"c":5,"z":0.07},{"m":8,"c":6,"z":1.85},{"m":8,"c":7,"z":-0.02},{"m":8,"c":8,"z":-0.25},{"m":8,"c":9,"z":-0.15},{"m":8,"c":10,"z":0.2},{"m":8,"c":11,"z":-0.65},{"m":8,"c":12,"z":0.07},{"m":8,"c":13,"z":-0.3},{"m":8,"c":14,"z":-0.2},{"m":8,"c":15,"z":0.05},{"m":8,"c":16,"z":0.6},{"m":8,"c":17,"z":-1.8},{"m":8,"c":18,"z":0.6},{"m":8,"c":19,"z":1.6},{"m":8,"c":20,"z":-0.15},{"m":8,"c":21,"z":0.7},{"m":8,"c":22,"z":-0.2},{"m":8,"c":23,"z":0.2},{"m":8,"c":24,"z":1.65},{"m":8,"c":25,"z":0.45},{"m":8,"c":26,"z":-0.25},{"m":8,"c":27,"z":-0.55},{"m":8,"c":28,"z":-1.05},{"m":8,"c":29,"z":0.45},{"m":8,"c":30,"z":0.6},{"m":8,"c":31,"z":-2},{"m":8,"c":32,"z":1.15},{"m":8,"c":33,"z":0.08},{"m":8,"c":34,"z":1.1},{"m":8,"c":35,"z":0.2},{"m":8,"c":36,"z":0.45},{"m":8,"c":37,"z":-0.4},{"m":8,"c":38,"z":1.15},{"m":8,"c":39,"z":-1.5},{"m":8,"c":40,"z":0.55},{"m":8,"c":41,"z":-0.03},{"m":8,"c":42,"z":1.05},{"m":8,"c":43,"z":0.55},{"m":8,"c":44,"z":0.4},{"m":8,"c":45,"z":1.05},{"m":8,"c":46,"z":-0.45},{"m":8,"c":47,"z":-1.6},{"m":8,"c":48,"z":-0.65},{"m":8,"c":49,"z":-0.2},{"m":8,"c":50,"z":-0.35},{"m":8,"c":51,"z":-0.65},{"m":8,"c":52,"z":-0.9},{"m":8,"c":53,"z":1.3},{"m":8,"c":54,"z":0.07},{"m":8,"c":55,"z":-0.1},{"m":8,"c":56,"z":0.2},{"m":8,"c":57,"z":0.25},{"m":8,"c":58,"z":-0.9},{"m":8,"c":59,"z":-0.2},{"m":8,"c":60,"z":2},{"m":8,"c":61,"z":0.4},{"m":8,"c":62,"z":0.7},{"m":8,"c":63,"z":-1.6},{"m":8,"c":64,"z":1.5},{"m":8,"c":65,"z":1.1},{"m":8,"c":66,"z":-0.2},{"m":8,"c":67,"z":0.07},{"m":8,"c":68,"z":-0.03},{"m":8,"c":69,"z":-2},{"m":8,"c":70,"z":-0.3},{"m":8,"c":71,"z":0.55},{"m":8,"c":72,"z":0.05},{"m":8,"c":73,"z":-0.08},{"m":8,"c":74,"z":-1.85},{"m":8,"c":75,"z":-0.1},{"m":8,"c":76,"z":1.15},{"m":8,"c":77,"z":1.3},{"m":8,"c":78,"z":0.95},{"m":8,"c":79,"z":-0.1},{"m":8,"c":80,"z":-0.45},{"m":8,"c":81,"z":0.55},{"m":8,"c":82,"z":-0.55},{"m":8,"c":83,"z":0.3},{"m":8,"c":84,"z":0.45},{"m":8,"c":85,"z":0.2},{"m":8,"c":86,"z":0.85},{"m":8,"c":87,"z":-0.5},{"m":8,"c":88,"z":0},{"m":8,"c":89,"z":-1.25},{"m":8,"c":90,"z":0.08},{"m":8,"c":91,"z":-2},{"m":8,"c":92,"z":-1.05},{"m":8,"c":93,"z":-1.7},{"m":8,"c":94,"z":-1.2},{"m":8,"c":95,"z":0.3},{"m":8,"c":96,"z":0.85},{"m":8,"c":97,"z":0.1},{"m":8,"c":98,"z":-0.05},{"m":8,"c":99,"z":-1.2},{"m":8,"c":100,"z":-0.3},{"m":8,"c":101,"z":-0.12},{"m":8,"c":102,"z":0.12},{"m":8,"c":103,"z":-1.9},{"m":8,"c":104,"z":-0.85},{"m":8,"c":105,"z":-0.03},{"m":8,"c":106,"z":2},
{"m":2,"c":0,"z":-1.2},{"m":2,"c":1,"z":0.6},{"m":2,"c":2,"z":1.1},{"m":2,"c":3,"z":-0.9},{"m":2,"c":4,"z":-0.25},{"m":2,"c":5,"z":-0.07},{"m":2,"c":6,"z":-0.9},{"m":2,"c":7,"z":-1},{"m":2,"c":8,"z":0.08},{"m":2,"c":9,"z":-1.5},{"m":2,"c":10,"z":0.9},{"m":2,"c":11,"z":0.8},{"m":2,"c":12,"z":0.9},{"m":2,"c":13,"z":1.65},{"m":2,"c":14,"z":2},{"m":2,"c":15,"z":0.55},{"m":2,"c":16,"z":-0.2},{"m":2,"c":17,"z":-0.55},{"m":2,"c":18,"z":-0.85},{"m":2,"c":19,"z":0.07},{"m":2,"c":20,"z":-0.03},{"m":2,"c":21,"z":-0.07},{"m":2,"c":22,"z":-1.3},{"m":2,"c":23,"z":0.75},{"m":2,"c":24,"z":0.07},{"m":2,"c":25,"z":0.55},{"m":2,"c":26,"z":-1},{"m":2,"c":27,"z":1.65},{"m":2,"c":28,"z":2},{"m":2,"c":29,"z":0.3},{"m":2,"c":30,"z":0.3},{"m":2,"c":31,"z":-2},{"m":2,"c":32,"z":-0.45},{"m":2,"c":33,"z":0.5},{"m":2,"c":34,"z":0.95},{"m":2,"c":35,"z":0.9},{"m":2,"c":36,"z":1.15},{"m":2,"c":37,"z":1.35},{"m":2,"c":38,"z":-1.25},{"m":2,"c":39,"z":-0.12},{"m":2,"c":40,"z":0.6},{"m":2,"c":41,"z":2},{"m":2,"c":42,"z":0.7},{"m":2,"c":43,"z":0.4},{"m":2,"c":44,"z":0.85},{"m":2,"c":45,"z":-0.4},{"m":2,"c":46,"z":-0.5},{"m":2,"c":47,"z":-1.1},{"m":2,"c":48,"z":-1.1},{"m":2,"c":49,"z":0.7},{"m":2,"c":50,"z":-0.7},{"m":2,"c":51,"z":-0.9},{"m":2,"c":52,"z":0.08},{"m":2,"c":53,"z":0.1},{"m":2,"c":54,"z":-0.05},{"m":2,"c":55,"z":-0.1},{"m":2,"c":56,"z":0},{"m":2,"c":57,"z":-0.2},{"m":2,"c":58,"z":-1.2},{"m":2,"c":59,"z":0.65},{"m":2,"c":60,"z":1},{"m":2,"c":61,"z":-0.7},{"m":2,"c":62,"z":-0.65},{"m":2,"c":63,"z":-1.85},{"m":2,"c":64,"z":-0.8},{"m":2,"c":65,"z":-0.35},{"m":2,"c":66,"z":0.07},{"m":2,"c":67,"z":0.5},{"m":2,"c":68,"z":0.2},{"m":2,"c":69,"z":-0.8},{"m":2,"c":70,"z":-0.05},{"m":2,"c":71,"z":0.35},{"m":2,"c":72,"z":1.25},{"m":2,"c":73,"z":-1.35},{"m":2,"c":74,"z":-1.85},{"m":2,"c":75,"z":-1.45},{"m":2,"c":76,"z":0.3},{"m":2,"c":77,"z":1.7},{"m":2,"c":78,"z":0.3},{"m":2,"c":79,"z":-0.1},{"m":2,"c":80,"z":-0.3},{"m":2,"c":81,"z":0.25},{"m":2,"c":82,"z":1.5},{"m":2,"c":83,"z":0.35},{"m":2,"c":84,"z":0.45},{"m":2,"c":85,"z":0.7},{"m":2,"c":86,"z":0.15},{"m":2,"c":87,"z":-0.55},{"m":2,"c":88,"z":-0.85},{"m":2,"c":89,"z":-0.7},{"m":2,"c":90,"z":0.05},{"m":2,"c":91,"z":-1.8},{"m":2,"c":92,"z":0.3},{"m":2,"c":93,"z":-0.1},{"m":2,"c":94,"z":-1.7},{"m":2,"c":95,"z":0.3},{"m":2,"c":96,"z":0.45},{"m":2,"c":97,"z":1.5},{"m":2,"c":98,"z":-0.65},{"m":2,"c":99,"z":-0.85},{"m":2,"c":100,"z":-0.5},{"m":2,"c":101,"z":0.25},{"m":2,"c":102,"z":-0.7},{"m":2,"c":103,"z":-1.4},{"m":2,"c":104,"z":-1.05},{"m":2,"c":105,"z":0.15},{"m":2,"c":106,"z":1.2},
{"m":21,"c":0,"z":-1.1},{"m":21,"c":1,"z":0.12},{"m":21,"c":2,"z":-0.4},{"m":21,"c":3,"z":-0.15},{"m":21,"c":4,"z":-0.05},{"m":21,"c":5,"z":0.25},{"m":21,"c":6,"z":2},{"m":21,"c":7,"z":-0.3},{"m":21,"c":8,"z":1.85},{"m":21,"c":9,"z":-0.35},{"m":21,"c":10,"z":-0.4},{"m":21,"c":11,"z":-0.4},{"m":21,"c":12,"z":0.45},{"m":21,"c":13,"z":-1.7},{"m":21,"c":14,"z":0.07},{"m":21,"c":15,"z":2},{"m":21,"c":16,"z":-0.02},{"m":21,"c":17,"z":-1},{"m":21,"c":18,"z":-0.65},{"m":21,"c":19,"z":0.05},{"m":21,"c":20,"z":1.2},{"m":21,"c":21,"z":-0.02},{"m":21,"c":22,"z":0.65},{"m":21,"c":23,"z":-1.05},{"m":21,"c":24,"z":-0.55},{"m":21,"c":25,"z":0.35},{"m":21,"c":26,"z":1.1},{"m":21,"c":27,"z":0.08},{"m":21,"c":28,"z":0},{"m":21,"c":29,"z":0.3},{"m":21,"c":30,"z":0.15},{"m":21,"c":31,"z":-1.6},{"m":21,"c":32,"z":-0.12},{"m":21,"c":33,"z":0.7},{"m":21,"c":34,"z":-1.05},{"m":21,"c":35,"z":-0.03},{"m":21,"c":36,"z":1},{"m":21,"c":37,"z":0.85},{"m":21,"c":38,"z":-0.85},{"m":21,"c":39,"z":-0.35},{"m":21,"c":40,"z":0.45},{"m":21,"c":41,"z":2},{"m":21,"c":42,"z":-0.8},{"m":21,"c":43,"z":-0.8},{"m":21,"c":44,"z":-0.8},{"m":21,"c":45,"z":-0.02},{"m":21,"c":46,"z":0.3},{"m":21,"c":47,"z":0.3},{"m":21,"c":48,"z":-0.02},{"m":21,"c":49,"z":0.75},{"m":21,"c":50,"z":0.75},{"m":21,"c":51,"z":0.2},{"m":21,"c":52,"z":-0.65},{"m":21,"c":53,"z":-0.5},{"m":21,"c":54,"z":0.95},{"m":21,"c":55,"z":0.3},{"m":21,"c":56,"z":1.5},{"m":21,"c":57,"z":-0.1},{"m":21,"c":58,"z":-0.4},{"m":21,"c":59,"z":0.35},{"m":21,"c":60,"z":2},{"m":21,"c":61,"z":0.15},{"m":21,"c":62,"z":0.02},{"m":21,"c":63,"z":-1.35},{"m":21,"c":64,"z":-0.12},{"m":21,"c":65,"z":-0.08},{"m":21,"c":66,"z":0.6},{"m":21,"c":67,"z":-0.07},{"m":21,"c":68,"z":-0.55},{"m":21,"c":69,"z":-0.07},{"m":21,"c":70,"z":-0.02},{"m":21,"c":71,"z":0.07},{"m":21,"c":72,"z":0.07},{"m":21,"c":73,"z":-0.65},{"m":21,"c":74,"z":-1.25},{"m":21,"c":75,"z":-0.7},{"m":21,"c":76,"z":-1},{"m":21,"c":77,"z":-0.25},{"m":21,"c":78,"z":-1.4},{"m":21,"c":79,"z":-0.45},{"m":21,"c":80,"z":0.12},{"m":21,"c":81,"z":-1.1},{"m":21,"c":82,"z":0.7},{"m":21,"c":83,"z":-1.15},{"m":21,"c":84,"z":-1.05},{"m":21,"c":85,"z":0.65},{"m":21,"c":86,"z":1.3},{"m":21,"c":87,"z":-0.15},{"m":21,"c":88,"z":-0.95},{"m":21,"c":89,"z":-0.75},{"m":21,"c":90,"z":0.07},{"m":21,"c":91,"z":-1.65},{"m":21,"c":92,"z":-1.4},{"m":21,"c":93,"z":-1.4},{"m":21,"c":94,"z":1.25},{"m":21,"c":95,"z":0.08},{"m":21,"c":96,"z":-0.03},{"m":21,"c":97,"z":1},{"m":21,"c":98,"z":0.05},{"m":21,"c":99,"z":0.9},{"m":21,"c":100,"z":0.45},{"m":21,"c":101,"z":-0.05},{"m":21,"c":102,"z":-0.12},{"m":21,"c":103,"z":-1.15},{"m":21,"c":104,"z":-0.85},{"m":21,"c":105,"z":-0.03},{"m":21,"c":106,"z":-0.2},
{"m":3,"c":0,"z":-1.5},{"m":3,"c":1,"z":0.03},{"m":3,"c":2,"z":0.2},{"m":3,"c":3,"z":-0.55},{"m":3,"c":4,"z":-0.3},{"m":3,"c":5,"z":-0.15},{"m":3,"c":6,"z":-0.15},{"m":3,"c":7,"z":0.12},{"m":3,"c":8,"z":0.7},{"m":3,"c":9,"z":-1.25},{"m":3,"c":10,"z":0.3},{"m":3,"c":11,"z":0.25},{"m":3,"c":12,"z":-0.5},{"m":3,"c":13,"z":1.25},{"m":3,"c":14,"z":0.07},{"m":3,"c":15,"z":0.5},{"m":3,"c":16,"z":0.95},{"m":3,"c":17,"z":-1.2},{"m":3,"c":18,"z":2},{"m":3,"c":19,"z":1.95},{"m":3,"c":20,"z":0.85},{"m":3,"c":21,"z":2},{"m":3,"c":22,"z":0.15},{"m":3,"c":23,"z":-0.3},{"m":3,"c":24,"z":-0.4},{"m":3,"c":25,"z":0.12},{"m":3,"c":26,"z":-0.55},{"m":3,"c":27,"z":-1.1},{"m":3,"c":28,"z":-1.35},{"m":3,"c":29,"z":-0.3},{"m":3,"c":30,"z":-0.5},{"m":3,"c":31,"z":-2},{"m":3,"c":32,"z":1},{"m":3,"c":33,"z":0.2},{"m":3,"c":34,"z":-0.25},{"m":3,"c":35,"z":-0.8},{"m":3,"c":36,"z":0.06},{"m":3,"c":37,"z":-1},{"m":3,"c":38,"z":-0.05},{"m":3,"c":39,"z":2},{"m":3,"c":40,"z":1.25},{"m":3,"c":41,"z":0.35},{"m":3,"c":42,"z":-0.45},{"m":3,"c":43,"z":-0.3},{"m":3,"c":44,"z":-0.95},{"m":3,"c":45,"z":0.85},{"m":3,"c":46,"z":-0.7},{"m":3,"c":47,"z":-0.65},{"m":3,"c":48,"z":-1.05},{"m":3,"c":49,"z":-0.12},{"m":3,"c":50,"z":0.05},{"m":3,"c":51,"z":-0.85},{"m":3,"c":52,"z":1.35},{"m":3,"c":53,"z":2},{"m":3,"c":54,"z":0.2},{"m":3,"c":55,"z":0.4},{"m":3,"c":56,"z":0.75},{"m":3,"c":57,"z":0.85},{"m":3,"c":58,"z":0.4},{"m":3,"c":59,"z":0.2},{"m":3,"c":60,"z":0.2},{"m":3,"c":61,"z":0.45},{"m":3,"c":62,"z":0.6},{"m":3,"c":63,"z":-0.3},{"m":3,"c":64,"z":-0.1},{"m":3,"c":65,"z":0.2},{"m":3,"c":66,"z":0.2},{"m":3,"c":67,"z":0.07},{"m":3,"c":68,"z":-0.55},{"m":3,"c":69,"z":-2},{"m":3,"c":70,"z":0.25},{"m":3,"c":71,"z":-0.2},{"m":3,"c":72,"z":0.5},{"m":3,"c":73,"z":-0.5},{"m":3,"c":74,"z":-0.35},{"m":3,"c":75,"z":-0.15},{"m":3,"c":76,"z":0.1},{"m":3,"c":77,"z":-0.5},{"m":3,"c":78,"z":-0.7},{"m":3,"c":79,"z":-0.15},{"m":3,"c":80,"z":1},{"m":3,"c":81,"z":-0.5},{"m":3,"c":82,"z":-0.55},{"m":3,"c":83,"z":-0.3},{"m":3,"c":84,"z":-0.25},{"m":3,"c":85,"z":0.55},{"m":3,"c":86,"z":1.1},{"m":3,"c":87,"z":0.6},{"m":3,"c":88,"z":-1.2},{"m":3,"c":89,"z":-1.25},{"m":3,"c":90,"z":-0.02},{"m":3,"c":91,"z":-1.65},{"m":3,"c":92,"z":-1.05},{"m":3,"c":93,"z":0.8},{"m":3,"c":94,"z":-1.1},{"m":3,"c":95,"z":1},{"m":3,"c":96,"z":-0.65},{"m":3,"c":97,"z":-0.03},{"m":3,"c":98,"z":0.12},{"m":3,"c":99,"z":0.12},{"m":3,"c":100,"z":-0.3},{"m":3,"c":101,"z":-0.15},{"m":3,"c":102,"z":0.05},{"m":3,"c":103,"z":-2},{"m":3,"c":104,"z":-1},{"m":3,"c":105,"z":-0.3},{"m":3,"c":106,"z":0.6},
{"m":14,"c":0,"z":-0.95},{"m":14,"c":1,"z":0.05},{"m":14,"c":2,"z":0.4},{"m":14,"c":3,"z":0.3},{"m":14,"c":4,"z":0.25},{"m":14,"c":5,"z":-0.85},{"m":14,"c":6,"z":2},{"m":14,"c":7,"z":1.8},{"m":14,"c":8,"z":-0.4},{"m":14,"c":9,"z":2},{"m":14,"c":10,"z":-0.65},{"m":14,"c":11,"z":-0.55},{"m":14,"c":12,"z":-0.45},{"m":14,"c":13,"z":-0.85},{"m":14,"c":14,"z":-0.7},{"m":14,"c":15,"z":0.2},{"m":14,"c":16,"z":0.1},{"m":14,"c":17,"z":-1.6},{"m":14,"c":18,"z":-1.4},{"m":14,"c":19,"z":-1},{"m":14,"c":20,"z":-0.75},{"m":14,"c":21,"z":-0.85},{"m":14,"c":22,"z":-0.4},{"m":14,"c":23,"z":-0.03},{"m":14,"c":24,"z":0.6},{"m":14,"c":25,"z":-1},{"m":14,"c":26,"z":0.75},{"m":14,"c":27,"z":-0.6},{"m":14,"c":28,"z":0.75},{"m":14,"c":29,"z":0.75},{"m":14,"c":30,"z":0.5},{"m":14,"c":31,"z":0.95},{"m":14,"c":32,"z":1.65},{"m":14,"c":33,"z":0.25},{"m":14,"c":34,"z":-0.7},{"m":14,"c":35,"z":0.3},{"m":14,"c":36,"z":-1.3},{"m":14,"c":37,"z":-0.35},{"m":14,"c":38,"z":0.9},{"m":14,"c":39,"z":-1.1},{"m":14,"c":40,"z":1.2},{"m":14,"c":41,"z":1.65},{"m":14,"c":42,"z":-0.2},{"m":14,"c":43,"z":-0.3},{"m":14,"c":44,"z":-1},{"m":14,"c":45,"z":2},{"m":14,"c":46,"z":0.35},{"m":14,"c":47,"z":-0.6},{"m":14,"c":48,"z":-0.2},{"m":14,"c":49,"z":0.55},{"m":14,"c":50,"z":-0.3},{"m":14,"c":51,"z":0.85},{"m":14,"c":52,"z":0.03},{"m":14,"c":53,"z":-0.07},{"m":14,"c":54,"z":-0.2},{"m":14,"c":55,"z":-0.1},{"m":14,"c":56,"z":0.12},{"m":14,"c":57,"z":-0.03},{"m":14,"c":58,"z":-0.03},{"m":14,"c":59,"z":2},{"m":14,"c":60,"z":0.25},{"m":14,"c":61,"z":-0.6},{"m":14,"c":62,"z":-0.3},{"m":14,"c":63,"z":0.45},{"m":14,"c":64,"z":0.75},{"m":14,"c":65,"z":-0.7},{"m":14,"c":66,"z":0.15},{"m":14,"c":67,"z":-0.1},{"m":14,"c":68,"z":-1},{"m":14,"c":69,"z":1.9},{"m":14,"c":70,"z":-0.7},{"m":14,"c":71,"z":0.25},{"m":14,"c":72,"z":0.12},{"m":14,"c":73,"z":-0.75},{"m":14,"c":74,"z":-0.85},{"m":14,"c":75,"z":0.95},{"m":14,"c":76,"z":-0.4},{"m":14,"c":77,"z":-1.1},{"m":14,"c":78,"z":-0.8},{"m":14,"c":79,"z":1.35},{"m":14,"c":80,"z":-0.25},{"m":14,"c":81,"z":-0.6},{"m":14,"c":82,"z":0.2},{"m":14,"c":83,"z":-0.35},{"m":14,"c":84,"z":0.08},{"m":14,"c":85,"z":-0.5},{"m":14,"c":86,"z":-1.2},{"m":14,"c":87,"z":0.3},{"m":14,"c":88,"z":0.08},{"m":14,"c":89,"z":1.9},{"m":14,"c":90,"z":-0.6},{"m":14,"c":91,"z":1.15},{"m":14,"c":92,"z":2},{"m":14,"c":93,"z":1.1},{"m":14,"c":94,"z":-0.85},{"m":14,"c":95,"z":-0.25},{"m":14,"c":96,"z":-0.95},{"m":14,"c":97,"z":-1.1},{"m":14,"c":98,"z":-0.7},{"m":14,"c":99,"z":-1.4},{"m":14,"c":100,"z":0.25},{"m":14,"c":101,"z":-1.1},{"m":14,"c":102,"z":-0.5},{"m":14,"c":103,"z":-1.15},{"m":14,"c":104,"z":-0.45},{"m":14,"c":105,"z":-0.95},{"m":14,"c":106,"z":-0.08},
{"m":4,"c":0,"z":-2},{"m":4,"c":1,"z":-0.05},{"m":4,"c":2,"z":1.15},{"m":4,"c":3,"z":-0.25},{"m":4,"c":4,"z":-0.3},{"m":4,"c":5,"z":-0.7},{"m":4,"c":6,"z":-0.55},{"m":4,"c":7,"z":-0.2},{"m":4,"c":8,"z":0.25},{"m":4,"c":9,"z":1.05},{"m":4,"c":10,"z":-0.75},{"m":4,"c":11,"z":0.7},{"m":4,"c":12,"z":0.2},{"m":4,"c":13,"z":-1.35},{"m":4,"c":14,"z":0.15},{"m":4,"c":15,"z":0.2},{"m":4,"c":16,"z":0.5},{"m":4,"c":17,"z":-1.6},{"m":4,"c":18,"z":1.3},{"m":4,"c":19,"z":2},{"m":4,"c":20,"z":0.08},{"m":4,"c":21,"z":1.65},{"m":4,"c":22,"z":0.9},{"m":4,"c":23,"z":0.2},{"m":4,"c":24,"z":-0.3},{"m":4,"c":25,"z":1.2},{"m":4,"c":26,"z":0.15},{"m":4,"c":27,"z":0.6},{"m":4,"c":28,"z":-0.7},{"m":4,"c":29,"z":-1.6},{"m":4,"c":30,"z":0.08},{"m":4,"c":31,"z":-2},{"m":4,"c":32,"z":-0.85},{"m":4,"c":33,"z":0.55},{"m":4,"c":34,"z":0.5},{"m":4,"c":35,"z":-0.02},{"m":4,"c":36,"z":1.1},{"m":4,"c":37,"z":-0.05},{"m":4,"c":38,"z":-0.4},{"m":4,"c":39,"z":-0.9},{"m":4,"c":40,"z":1.45},{"m":4,"c":41,"z":-0.4},{"m":4,"c":42,"z":0.35},{"m":4,"c":43,"z":0.07},{"m":4,"c":44,"z":1.2},{"m":4,"c":45,"z":-0.65},{"m":4,"c":46,"z":-1.15},{"m":4,"c":47,"z":-0.02},{"m":4,"c":48,"z":-0.55},{"m":4,"c":49,"z":0.07},{"m":4,"c":50,"z":-0.15},{"m":4,"c":51,"z":-0.35},{"m":4,"c":52,"z":-0.55},{"m":4,"c":53,"z":1},{"m":4,"c":54,"z":0.6},{"m":4,"c":55,"z":0.3},{"m":4,"c":56,"z":0.25},{"m":4,"c":57,"z":-1.05},{"m":4,"c":58,"z":-0.07},{"m":4,"c":59,"z":0.8},{"m":4,"c":60,"z":0.3},{"m":4,"c":61,"z":1},{"m":4,"c":62,"z":0.9},{"m":4,"c":63,"z":0.05},{"m":4,"c":64,"z":-1.05},{"m":4,"c":65,"z":-0.7},{"m":4,"c":66,"z":0.7},{"m":4,"c":67,"z":0.25},{"m":4,"c":68,"z":-0.5},{"m":4,"c":69,"z":-2},{"m":4,"c":70,"z":0.55},{"m":4,"c":71,"z":-0.55},{"m":4,"c":72,"z":0.7},{"m":4,"c":73,"z":-0.5},{"m":4,"c":74,"z":-1.15},{"m":4,"c":75,"z":-1.45},{"m":4,"c":76,"z":0.45},{"m":4,"c":77,"z":-0.9},{"m":4,"c":78,"z":-0.25},{"m":4,"c":79,"z":-0.15},{"m":4,"c":80,"z":1.2},{"m":4,"c":81,"z":0.07},{"m":4,"c":82,"z":-1.05},{"m":4,"c":83,"z":-0.07},{"m":4,"c":84,"z":-0.2},{"m":4,"c":85,"z":0.9},{"m":4,"c":86,"z":-0.65},{"m":4,"c":87,"z":0.4},{"m":4,"c":88,"z":-1.1},{"m":4,"c":89,"z":-1.65},{"m":4,"c":90,"z":0.55},{"m":4,"c":91,"z":-2},{"m":4,"c":92,"z":2},{"m":4,"c":93,"z":-0.65},{"m":4,"c":94,"z":-1.35},{"m":4,"c":95,"z":1},{"m":4,"c":96,"z":0.45},{"m":4,"c":97,"z":0.75},{"m":4,"c":98,"z":0.45},{"m":4,"c":99,"z":0.35},{"m":4,"c":100,"z":0.95},{"m":4,"c":101,"z":0.25},{"m":4,"c":102,"z":0.75},{"m":4,"c":103,"z":-2},{"m":4,"c":104,"z":-1.3},{"m":4,"c":105,"z":0.25},{"m":4,"c":106,"z":2},
{"m":24,"c":0,"z":-1.15},{"m":24,"c":1,"z":-0.3},{"m":24,"c":2,"z":2},{"m":24,"c":3,"z":0.3},{"m":24,"c":4,"z":-0.5},{"m":24,"c":5,"z":-0.45},{"m":24,"c":6,"z":-0.7},{"m":24,"c":7,"z":-1},{"m":24,"c":8,"z":0.05},{"m":24,"c":9,"z":2},{"m":24,"c":10,"z":-1.2},{"m":24,"c":11,"z":0.8},{"m":24,"c":12,"z":-0.3},{"m":24,"c":13,"z":1.6},{"m":24,"c":14,"z":-0.3},{"m":24,"c":15,"z":-0.1},{"m":24,"c":16,"z":-0.55},{"m":24,"c":17,"z":-1},{"m":24,"c":18,"z":-0.5},{"m":24,"c":19,"z":0.7},{"m":24,"c":20,"z":-0.12},{"m":24,"c":21,"z":-0.2},{"m":24,"c":22,"z":-0.07},{"m":24,"c":23,"z":-0.2},{"m":24,"c":24,"z":-1.1},{"m":24,"c":25,"z":0.85},{"m":24,"c":26,"z":-0.85},{"m":24,"c":27,"z":0.2},{"m":24,"c":28,"z":-0.07},{"m":24,"c":29,"z":-0.55},{"m":24,"c":30,"z":-0.9},{"m":24,"c":31,"z":-1.9},{"m":24,"c":32,"z":-0.85},{"m":24,"c":33,"z":0},{"m":24,"c":34,"z":-0.6},{"m":24,"c":35,"z":-0.65},{"m":24,"c":36,"z":-0.55},{"m":24,"c":37,"z":0.2},{"m":24,"c":38,"z":-0.7},{"m":24,"c":39,"z":0.07},{"m":24,"c":40,"z":-0.12},{"m":24,"c":41,"z":-1.1},{"m":24,"c":42,"z":-0.35},{"m":24,"c":43,"z":-0.25},{"m":24,"c":44,"z":-0.25},{"m":24,"c":45,"z":-0.45},{"m":24,"c":46,"z":-0.45},{"m":24,"c":47,"z":-0.4},{"m":24,"c":48,"z":0.07},{"m":24,"c":49,"z":0.5},{"m":24,"c":50,"z":0.8},{"m":24,"c":51,"z":1.15},{"m":24,"c":52,"z":0.08},{"m":24,"c":53,"z":0.1},{"m":24,"c":54,"z":0.12},{"m":24,"c":55,"z":0.02},{"m":24,"c":56,"z":0.2},{"m":24,"c":57,"z":-0.4},{"m":24,"c":58,"z":2},{"m":24,"c":59,"z":0.07},{"m":24,"c":60,"z":1.4},{"m":24,"c":61,"z":-0.35},{"m":24,"c":62,"z":0.45},{"m":24,"c":63,"z":2},{"m":24,"c":64,"z":-0.85},{"m":24,"c":65,"z":-0.25},{"m":24,"c":66,"z":-0.12},{"m":24,"c":67,"z":-0.7},{"m":24,"c":68,"z":-0.75},{"m":24,"c":69,"z":-1},{"m":24,"c":70,"z":-0.12},{"m":24,"c":71,"z":-1.25},{"m":24,"c":72,"z":0.06},{"m":24,"c":73,"z":-0.1},{"m":24,"c":74,"z":0.3},{"m":24,"c":75,"z":0.15},{"m":24,"c":76,"z":-0.25},{"m":24,"c":77,"z":-0.08},{"m":24,"c":78,"z":-0.6},{"m":24,"c":79,"z":-0.5},{"m":24,"c":80,"z":1.25},{"m":24,"c":81,"z":-0.35},{"m":24,"c":82,"z":0.25},{"m":24,"c":83,"z":-0.85},{"m":24,"c":84,"z":-0.25},{"m":24,"c":85,"z":0.25},{"m":24,"c":86,"z":-0.4},{"m":24,"c":87,"z":1.55},{"m":24,"c":88,"z":-1.35},{"m":24,"c":89,"z":-0.3},{"m":24,"c":90,"z":0.2},{"m":24,"c":91,"z":0.4},{"m":24,"c":92,"z":2},{"m":24,"c":93,"z":1.15},{"m":24,"c":94,"z":-0.05},{"m":24,"c":95,"z":0.2},{"m":24,"c":96,"z":-0.7},{"m":24,"c":97,"z":0.7},{"m":24,"c":98,"z":-0.7},{"m":24,"c":99,"z":-0.9},{"m":24,"c":100,"z":-0.35},{"m":24,"c":101,"z":-0.75},{"m":24,"c":102,"z":-0.85},{"m":24,"c":103,"z":2},{"m":24,"c":104,"z":1.85},{"m":24,"c":105,"z":0.85},{"m":24,"c":106,"z":0.3},
{"m":6,"c":0,"z":-1.7},{"m":6,"c":1,"z":1.85},{"m":6,"c":2,"z":1.55},{"m":6,"c":3,"z":-1.15},{"m":6,"c":4,"z":-0.3},{"m":6,"c":5,"z":0.15},{"m":6,"c":6,"z":0.1},{"m":6,"c":7,"z":0.2},{"m":6,"c":8,"z":0.2},{"m":6,"c":9,"z":-0.85},{"m":6,"c":10,"z":-0.55},{"m":6,"c":11,"z":-0.95},{"m":6,"c":12,"z":0.08},{"m":6,"c":13,"z":0.2},{"m":6,"c":14,"z":-1.05},{"m":6,"c":15,"z":-0.2},{"m":6,"c":16,"z":0.9},{"m":6,"c":17,"z":-2},{"m":6,"c":18,"z":0.85},{"m":6,"c":19,"z":2},{"m":6,"c":20,"z":-0.2},{"m":6,"c":21,"z":1.2},{"m":6,"c":22,"z":0.4},{"m":6,"c":23,"z":0.45},{"m":6,"c":24,"z":-0.15},{"m":6,"c":25,"z":0.2},{"m":6,"c":26,"z":0.8},{"m":6,"c":27,"z":0.08},{"m":6,"c":28,"z":-0.85},{"m":6,"c":29,"z":-0.85},{"m":6,"c":30,"z":0.08},{"m":6,"c":31,"z":-2},{"m":6,"c":32,"z":0.2},{"m":6,"c":33,"z":1.05},{"m":6,"c":34,"z":0.4},{"m":6,"c":35,"z":0.5},{"m":6,"c":36,"z":1.05},{"m":6,"c":37,"z":-0.05},{"m":6,"c":38,"z":0.1},{"m":6,"c":39,"z":-0.65},{"m":6,"c":40,"z":1.65},{"m":6,"c":41,"z":0.45},{"m":6,"c":42,"z":0.2},{"m":6,"c":43,"z":0.65},{"m":6,"c":44,"z":-0.5},{"m":6,"c":45,"z":0.45},{"m":6,"c":46,"z":-0.2},{"m":6,"c":47,"z":-0.15},{"m":6,"c":48,"z":-1.05},{"m":6,"c":49,"z":-0.5},{"m":6,"c":50,"z":0},{"m":6,"c":51,"z":-0.45},{"m":6,"c":52,"z":-1.05},{"m":6,"c":53,"z":1.1},{"m":6,"c":54,"z":0.3},{"m":6,"c":55,"z":1},{"m":6,"c":56,"z":0.5},{"m":6,"c":57,"z":0.08},{"m":6,"c":58,"z":-0.12},{"m":6,"c":59,"z":0.45},{"m":6,"c":60,"z":1.25},{"m":6,"c":61,"z":0.8},{"m":6,"c":62,"z":1.35},{"m":6,"c":63,"z":-0.9},{"m":6,"c":64,"z":0.35},{"m":6,"c":65,"z":0.7},{"m":6,"c":66,"z":0.7},{"m":6,"c":67,"z":0.03},{"m":6,"c":68,"z":-1.1},{"m":6,"c":69,"z":-0.25},{"m":6,"c":70,"z":0},{"m":6,"c":71,"z":-0.9},{"m":6,"c":72,"z":0.4},{"m":6,"c":73,"z":-0.55},{"m":6,"c":74,"z":-1.6},{"m":6,"c":75,"z":-0.3},{"m":6,"c":76,"z":0.15},{"m":6,"c":77,"z":-0.75},{"m":6,"c":78,"z":-0.15},{"m":6,"c":79,"z":-0.08},{"m":6,"c":80,"z":0.1},{"m":6,"c":81,"z":-0.45},{"m":6,"c":82,"z":-0.5},{"m":6,"c":83,"z":-0.03},{"m":6,"c":84,"z":0.12},{"m":6,"c":85,"z":0.7},{"m":6,"c":86,"z":-0.1},{"m":6,"c":87,"z":0.3},{"m":6,"c":88,"z":-1.3},{"m":6,"c":89,"z":-0.7},{"m":6,"c":90,"z":0.6},{"m":6,"c":91,"z":-2},{"m":6,"c":92,"z":-1.85},{"m":6,"c":93,"z":-2},{"m":6,"c":94,"z":-0.25},{"m":6,"c":95,"z":0.35},{"m":6,"c":96,"z":1.05},{"m":6,"c":97,"z":0.5},{"m":6,"c":98,"z":0.5},{"m":6,"c":99,"z":0.15},{"m":6,"c":100,"z":1},{"m":6,"c":101,"z":1.05},{"m":6,"c":102,"z":1.25},{"m":6,"c":103,"z":-1.9},{"m":6,"c":104,"z":-1.35},{"m":6,"c":105,"z":-0.25},{"m":6,"c":106,"z":1.75},
{"m":10,"c":0,"z":-2},{"m":10,"c":1,"z":0.15},{"m":10,"c":2,"z":2},{"m":10,"c":3,"z":-0.9},{"m":10,"c":4,"z":0.07},{"m":10,"c":5,"z":-0.65},{"m":10,"c":6,"z":0.03},{"m":10,"c":7,"z":0.55},{"m":10,"c":8,"z":0.25},{"m":10,"c":9,"z":1.65},{"m":10,"c":10,"z":1.05},{"m":10,"c":11,"z":-0.03},{"m":10,"c":12,"z":0.08},{"m":10,"c":13,"z":-0.05},{"m":10,"c":14,"z":0.55},{"m":10,"c":15,"z":0.75},{"m":10,"c":16,"z":0.85},{"m":10,"c":17,"z":-2},{"m":10,"c":18,"z":1.5},{"m":10,"c":19,"z":2},{"m":10,"c":20,"z":0.25},{"m":10,"c":21,"z":1.3},{"m":10,"c":22,"z":0.3},{"m":10,"c":23,"z":-0.65},{"m":10,"c":24,"z":-0.3},{"m":10,"c":25,"z":0.07},{"m":10,"c":26,"z":-1},{"m":10,"c":27,"z":0.5},{"m":10,"c":28,"z":-0.75},{"m":10,"c":29,"z":0.5},{"m":10,"c":30,"z":-0.2},{"m":10,"c":31,"z":-2},{"m":10,"c":32,"z":0.15},{"m":10,"c":33,"z":0.02},{"m":10,"c":34,"z":-0.3},{"m":10,"c":35,"z":-0.1},{"m":10,"c":36,"z":0.55},{"m":10,"c":37,"z":-0.12},{"m":10,"c":38,"z":0.06},{"m":10,"c":39,"z":-0.2},{"m":10,"c":40,"z":0.85},{"m":10,"c":41,"z":0.9},{"m":10,"c":42,"z":-0.45},{"m":10,"c":43,"z":-0.45},{"m":10,"c":44,"z":-0.15},{"m":10,"c":45,"z":0.12},{"m":10,"c":46,"z":-1.25},{"m":10,"c":47,"z":-0.7},{"m":10,"c":48,"z":-1.15},{"m":10,"c":49,"z":0.15},{"m":10,"c":50,"z":0.25},{"m":10,"c":51,"z":0.15},{"m":10,"c":52,"z":0.15},{"m":10,"c":53,"z":1},{"m":10,"c":54,"z":0.5},{"m":10,"c":55,"z":0},{"m":10,"c":56,"z":0.7},{"m":10,"c":57,"z":0.7},{"m":10,"c":58,"z":0.7},{"m":10,"c":59,"z":0.8},{"m":10,"c":60,"z":0.6},{"m":10,"c":61,"z":1.3},{"m":10,"c":62,"z":2},{"m":10,"c":63,"z":0.55},{"m":10,"c":64,"z":-0.3},{"m":10,"c":65,"z":0.2},{"m":10,"c":66,"z":0.12},{"m":10,"c":67,"z":0.6},{"m":10,"c":68,"z":-0.12},{"m":10,"c":69,"z":-1.65},{"m":10,"c":70,"z":-0.12},{"m":10,"c":71,"z":-0.3},{"m":10,"c":72,"z":0.45},{"m":10,"c":73,"z":-0.15},{"m":10,"c":74,"z":-0.25},{"m":10,"c":75,"z":-0.9},{"m":10,"c":76,"z":-0.5},{"m":10,"c":77,"z":-0.15},{"m":10,"c":78,"z":-1.2},{"m":10,"c":79,"z":-0.7},{"m":10,"c":80,"z":0.08},{"m":10,"c":81,"z":-0.9},{"m":10,"c":82,"z":-0.55},{"m":10,"c":83,"z":-1.15},{"m":10,"c":84,"z":-0.5},{"m":10,"c":85,"z":0.45},{"m":10,"c":86,"z":1.4},{"m":10,"c":87,"z":-0.02},{"m":10,"c":88,"z":-1},{"m":10,"c":89,"z":-1.1},{"m":10,"c":90,"z":0.1},{"m":10,"c":91,"z":-2},{"m":10,"c":92,"z":-1},{"m":10,"c":93,"z":-2},{"m":10,"c":94,"z":-1.25},{"m":10,"c":95,"z":0.8},{"m":10,"c":96,"z":0.4},{"m":10,"c":97,"z":0.12},{"m":10,"c":98,"z":0.55},{"m":10,"c":99,"z":-0.05},{"m":10,"c":100,"z":-0.3},{"m":10,"c":101,"z":-0.35},{"m":10,"c":102,"z":1.15},{"m":10,"c":103,"z":-1.5},{"m":10,"c":104,"z":-0.25},{"m":10,"c":105,"z":0.08},{"m":10,"c":106,"z":0.4},
{"m":30,"c":0,"z":-1.4},{"m":30,"c":1,"z":0.02},{"m":30,"c":2,"z":-1.2},{"m":30,"c":3,"z":-0.8},{"m":30,"c":4,"z":-0.03},{"m":30,"c":5,"z":0.25},{"m":30,"c":6,"z":-1.3},{"m":30,"c":7,"z":0.45},{"m":30,"c":8,"z":-0.03},{"m":30,"c":9,"z":2},{"m":30,"c":10,"z":-1.5},{"m":30,"c":11,"z":0.06},{"m":30,"c":12,"z":-0.05},{"m":30,"c":13,"z":2},{"m":30,"c":14,"z":2},{"m":30,"c":15,"z":0.25},{"m":30,"c":16,"z":0.1},{"m":30,"c":17,"z":-1.7},{"m":30,"c":18,"z":1.9},{"m":30,"c":19,"z":1.2},{"m":30,"c":20,"z":-0.4},{"m":30,"c":21,"z":0.7},{"m":30,"c":22,"z":0.55},{"m":30,"c":23,"z":-0.12},{"m":30,"c":24,"z":-0.65},{"m":30,"c":25,"z":0.4},{"m":30,"c":26,"z":0.02},{"m":30,"c":27,"z":1.25},{"m":30,"c":28,"z":-0.4},{"m":30,"c":29,"z":1.25},{"m":30,"c":30,"z":-1.15},{"m":30,"c":31,"z":-2},{"m":30,"c":32,"z":-0.35},{"m":30,"c":33,"z":-0.65},{"m":30,"c":34,"z":-0.45},{"m":30,"c":35,"z":0.3},{"m":30,"c":36,"z":1.75},{"m":30,"c":37,"z":-0.12},{"m":30,"c":38,"z":0.02},{"m":30,"c":39,"z":-0.3},{"m":30,"c":40,"z":1.25},{"m":30,"c":41,"z":-0.12},{"m":30,"c":42,"z":-0.2},{"m":30,"c":43,"z":-0.35},{"m":30,"c":44,"z":0.25},{"m":30,"c":45,"z":-0.02},{"m":30,"c":46,"z":0.65},{"m":30,"c":47,"z":-0.55},{"m":30,"c":48,"z":-0.35},{"m":30,"c":49,"z":0.12},{"m":30,"c":50,"z":0.15},{"m":30,"c":51,"z":-0.1},{"m":30,"c":52,"z":-1.4},{"m":30,"c":53,"z":0.65},{"m":30,"c":54,"z":-0.02},{"m":30,"c":55,"z":0.7},{"m":30,"c":56,"z":-0.2},{"m":30,"c":57,"z":-0.05},{"m":30,"c":58,"z":0.25},{"m":30,"c":59,"z":0.3},{"m":30,"c":60,"z":0.55},{"m":30,"c":61,"z":0.85},{"m":30,"c":62,"z":1.05},{"m":30,"c":63,"z":0.07},{"m":30,"c":64,"z":0.02},{"m":30,"c":65,"z":-0.8},{"m":30,"c":66,"z":-0.2},{"m":30,"c":67,"z":0.25},{"m":30,"c":68,"z":-0.8},{"m":30,"c":69,"z":-0.2},{"m":30,"c":70,"z":-0.6},{"m":30,"c":71,"z":-1.1},{"m":30,"c":72,"z":0.12},{"m":30,"c":73,"z":-0.02},{"m":30,"c":74,"z":-0.5},{"m":30,"c":75,"z":0.1},{"m":30,"c":76,"z":-1},{"m":30,"c":77,"z":0.9},{"m":30,"c":78,"z":-0.8},{"m":30,"c":79,"z":-0.2},{"m":30,"c":80,"z":0.4},{"m":30,"c":81,"z":-0.15},{"m":30,"c":82,"z":0.45},{"m":30,"c":83,"z":-1.35},{"m":30,"c":84,"z":-0.6},{"m":30,"c":85,"z":0.2},{"m":30,"c":86,"z":0},{"m":30,"c":87,"z":0.7},{"m":30,"c":88,"z":-1.9},{"m":30,"c":89,"z":-1.8},{"m":30,"c":90,"z":-0.35},{"m":30,"c":91,"z":0.7},{"m":30,"c":92,"z":2},{"m":30,"c":93,"z":0.3},{"m":30,"c":94,"z":0.1},{"m":30,"c":95,"z":0.08},{"m":30,"c":96,"z":1.2},{"m":30,"c":97,"z":0.4},{"m":30,"c":98,"z":0.25},{"m":30,"c":99,"z":-1.15},{"m":30,"c":100,"z":-0.1},{"m":30,"c":101,"z":-0.35},{"m":30,"c":102,"z":1},{"m":30,"c":103,"z":-2},{"m":30,"c":104,"z":-1.8},{"m":30,"c":105,"z":0.35},{"m":30,"c":106,"z":2},
{"m":27,"c":0,"z":-1.7},{"m":27,"c":1,"z":-1},{"m":27,"c":2,"z":-0.75},{"m":27,"c":3,"z":-0.65},{"m":27,"c":4,"z":-0.15},{"m":27,"c":5,"z":0.2},{"m":27,"c":6,"z":-0.3},{"m":27,"c":7,"z":0.85},{"m":27,"c":8,"z":-0.15},{"m":27,"c":9,"z":-0.45},{"m":27,"c":10,"z":2},{"m":27,"c":11,"z":-0.7},{"m":27,"c":12,"z":-0.65},{"m":27,"c":13,"z":-0.35},{"m":27,"c":14,"z":-0.12},{"m":27,"c":15,"z":0.08},{"m":27,"c":16,"z":0.1},{"m":27,"c":17,"z":-1.45},{"m":27,"c":18,"z":0.95},{"m":27,"c":19,"z":2},{"m":27,"c":20,"z":-0.45},{"m":27,"c":21,"z":0.3},{"m":27,"c":22,"z":0.12},{"m":27,"c":23,"z":1.25},{"m":27,"c":24,"z":0.07},{"m":27,"c":25,"z":-0.07},{"m":27,"c":26,"z":-0.6},{"m":27,"c":27,"z":0.08},{"m":27,"c":28,"z":-1.4},{"m":27,"c":29,"z":-1.15},{"m":27,"c":30,"z":0.02},{"m":27,"c":31,"z":0.7},{"m":27,"c":32,"z":1},{"m":27,"c":33,"z":-0.05},{"m":27,"c":34,"z":0.25},{"m":27,"c":35,"z":0.85},{"m":27,"c":36,"z":-0.45},{"m":27,"c":37,"z":-1.1},{"m":27,"c":38,"z":0.3},{"m":27,"c":39,"z":-0.75},{"m":27,"c":40,"z":2},{"m":27,"c":41,"z":-1.15},{"m":27,"c":42,"z":1.15},{"m":27,"c":43,"z":0.95},{"m":27,"c":44,"z":0.05},{"m":27,"c":45,"z":1},{"m":27,"c":46,"z":-0.15},{"m":27,"c":47,"z":-0.1},{"m":27,"c":48,"z":-0.85},{"m":27,"c":49,"z":-0.12},{"m":27,"c":50,"z":-0.6},{"m":27,"c":51,"z":0.05},{"m":27,"c":52,"z":-0.5},{"m":27,"c":53,"z":0.55},{"m":27,"c":54,"z":0.15},{"m":27,"c":55,"z":-0.3},{"m":27,"c":56,"z":-0.07},{"m":27,"c":57,"z":-1.1},{"m":27,"c":58,"z":-0.35},{"m":27,"c":59,"z":-0.55},{"m":27,"c":60,"z":2},{"m":27,"c":61,"z":1.1},{"m":27,"c":62,"z":1.65},{"m":27,"c":63,"z":0},{"m":27,"c":64,"z":-0.6},{"m":27,"c":65,"z":0.8},{"m":27,"c":66,"z":0.35},{"m":27,"c":67,"z":-0.6},{"m":27,"c":68,"z":1.5},{"m":27,"c":69,"z":-1.1},{"m":27,"c":70,"z":-0.1},{"m":27,"c":71,"z":-0.05},{"m":27,"c":72,"z":-0.35},{"m":27,"c":73,"z":-0.1},{"m":27,"c":74,"z":1.85},{"m":27,"c":75,"z":0.2},{"m":27,"c":76,"z":0.3},{"m":27,"c":77,"z":1},{"m":27,"c":78,"z":-0.35},{"m":27,"c":79,"z":-0.55},{"m":27,"c":80,"z":0.12},{"m":27,"c":81,"z":0.85},{"m":27,"c":82,"z":-0.8},{"m":27,"c":83,"z":0.35},{"m":27,"c":84,"z":0.65},{"m":27,"c":85,"z":-0.1},{"m":27,"c":86,"z":1.85},{"m":27,"c":87,"z":-0.2},{"m":27,"c":88,"z":-0.1},{"m":27,"c":89,"z":-1.55},{"m":27,"c":90,"z":0.1},{"m":27,"c":91,"z":-2},{"m":27,"c":92,"z":-1},{"m":27,"c":93,"z":-1.95},{"m":27,"c":94,"z":-1.1},{"m":27,"c":95,"z":-0.12},{"m":27,"c":96,"z":0.95},{"m":27,"c":97,"z":-0.07},{"m":27,"c":98,"z":1},{"m":27,"c":99,"z":-1.6},{"m":27,"c":100,"z":0.2},{"m":27,"c":101,"z":-0.02},{"m":27,"c":102,"z":0.95},{"m":27,"c":103,"z":-1.3},{"m":27,"c":104,"z":-0.8},{"m":27,"c":105,"z":-0.75},{"m":27,"c":106,"z":0},
{"m":5,"c":0,"z":-1.9},{"m":5,"c":1,"z":0.7},{"m":5,"c":2,"z":1},{"m":5,"c":3,"z":-1.15},{"m":5,"c":4,"z":-0.3},{"m":5,"c":5,"z":0.8},{"m":5,"c":6,"z":-0.7},{"m":5,"c":7,"z":1.4},{"m":5,"c":8,"z":0.65},{"m":5,"c":9,"z":-0.7},{"m":5,"c":10,"z":-0.6},{"m":5,"c":11,"z":-0.2},{"m":5,"c":12,"z":0.85},{"m":5,"c":13,"z":0.25},{"m":5,"c":14,"z":-0.25},{"m":5,"c":15,"z":0.2},{"m":5,"c":16,"z":1.65},{"m":5,"c":17,"z":-1.6},{"m":5,"c":18,"z":1.5},{"m":5,"c":19,"z":1.8},{"m":5,"c":20,"z":-0.3},{"m":5,"c":21,"z":0.5},{"m":5,"c":22,"z":0.95},{"m":5,"c":23,"z":-0.03},{"m":5,"c":24,"z":0.07},{"m":5,"c":25,"z":0.3},{"m":5,"c":26,"z":0.25},{"m":5,"c":27,"z":0.8},{"m":5,"c":28,"z":-0.03},{"m":5,"c":29,"z":-0.8},{"m":5,"c":30,"z":-0.15},{"m":5,"c":31,"z":-2},{"m":5,"c":32,"z":-0.05},{"m":5,"c":33,"z":0.3},{"m":5,"c":34,"z":0.12},{"m":5,"c":35,"z":0.25},{"m":5,"c":36,"z":2},{"m":5,"c":37,"z":0.15},{"m":5,"c":38,"z":-0.25},{"m":5,"c":39,"z":-0.85},{"m":5,"c":40,"z":0.45},{"m":5,"c":41,"z":-0.05},{"m":5,"c":42,"z":0.55},{"m":5,"c":43,"z":0.06},{"m":5,"c":44,"z":-0.02},{"m":5,"c":45,"z":-0.05},{"m":5,"c":46,"z":0.3},{"m":5,"c":47,"z":0.15},{"m":5,"c":48,"z":-0.85},{"m":5,"c":49,"z":0.25},{"m":5,"c":50,"z":-0.1},{"m":5,"c":51,"z":0.65},{"m":5,"c":52,"z":-1.5},{"m":5,"c":53,"z":1.25},{"m":5,"c":54,"z":0.6},{"m":5,"c":55,"z":0.4},{"m":5,"c":56,"z":0.7},{"m":5,"c":57,"z":-0.15},{"m":5,"c":58,"z":-0.7},{"m":5,"c":59,"z":0.1},{"m":5,"c":60,"z":0.15},{"m":5,"c":61,"z":1.15},{"m":5,"c":62,"z":1.55},{"m":5,"c":63,"z":-0.75},{"m":5,"c":64,"z":-0.65},{"m":5,"c":65,"z":-0.5},{"m":5,"c":66,"z":0.15},{"m":5,"c":67,"z":0.3},{"m":5,"c":68,"z":-0.95},{"m":5,"c":69,"z":-1.2},{"m":5,"c":70,"z":0.1},{"m":5,"c":71,"z":-0.7},{"m":5,"c":72,"z":-0.35},{"m":5,"c":73,"z":-0.4},{"m":5,"c":74,"z":-1.55},{"m":5,"c":75,"z":-0.2},{"m":5,"c":76,"z":0.05},{"m":5,"c":77,"z":-0.1},{"m":5,"c":78,"z":0.07},{"m":5,"c":79,"z":1.1},{"m":5,"c":80,"z":0.95},{"m":5,"c":81,"z":-0.2},{"m":5,"c":82,"z":-0.65},{"m":5,"c":83,"z":-0.2},{"m":5,"c":84,"z":-0.15},{"m":5,"c":85,"z":0.45},{"m":5,"c":86,"z":-0.2},{"m":5,"c":87,"z":0.75},{"m":5,"c":88,"z":-1.7},{"m":5,"c":89,"z":-1.65},{"m":5,"c":90,"z":0.15},{"m":5,"c":91,"z":-2},{"m":5,"c":92,"z":-1.4},{"m":5,"c":93,"z":-1.85},{"m":5,"c":94,"z":-0.5},{"m":5,"c":95,"z":0.15},{"m":5,"c":96,"z":1.35},{"m":5,"c":97,"z":1},{"m":5,"c":98,"z":1.25},{"m":5,"c":99,"z":-0.6},{"m":5,"c":100,"z":0.6},{"m":5,"c":101,"z":0.5},{"m":5,"c":102,"z":1.4},{"m":5,"c":103,"z":-2},{"m":5,"c":104,"z":-1.35},{"m":5,"c":105,"z":0.25},{"m":5,"c":106,"z":2},
{"m":9,"c":0,"z":-1.6},{"m":9,"c":1,"z":1.2},{"m":9,"c":2,"z":0.4},{"m":9,"c":3,"z":0.45},{"m":9,"c":4,"z":-0.45},{"m":9,"c":5,"z":0.1},{"m":9,"c":6,"z":1.2},{"m":9,"c":7,"z":-0.4},{"m":9,"c":8,"z":-0.2},{"m":9,"c":9,"z":-1.05},{"m":9,"c":10,"z":2},{"m":9,"c":11,"z":-0.03},{"m":9,"c":12,"z":0.5},{"m":9,"c":13,"z":-0.15},{"m":9,"c":14,"z":0.25},{"m":9,"c":15,"z":-0.15},{"m":9,"c":16,"z":-0.2},{"m":9,"c":17,"z":-0.95},{"m":9,"c":18,"z":-0.2},{"m":9,"c":19,"z":1.15},{"m":9,"c":20,"z":-0.3},{"m":9,"c":21,"z":0.07},{"m":9,"c":22,"z":0.4},{"m":9,"c":23,"z":-1},{"m":9,"c":24,"z":-0.3},{"m":9,"c":25,"z":1.25},{"m":9,"c":26,"z":-0.03},{"m":9,"c":27,"z":1.2},{"m":9,"c":28,"z":0.7},{"m":9,"c":29,"z":0.02},{"m":9,"c":30,"z":0.12},{"m":9,"c":31,"z":-2},{"m":9,"c":32,"z":2},{"m":9,"c":33,"z":0.8},{"m":9,"c":34,"z":-0.6},{"m":9,"c":35,"z":-0.05},{"m":9,"c":36,"z":2},{"m":9,"c":37,"z":0.8},{"m":9,"c":38,"z":1.45},{"m":9,"c":39,"z":-0.4},{"m":9,"c":40,"z":2},{"m":9,"c":41,"z":-0.9},{"m":9,"c":42,"z":-0.45},{"m":9,"c":43,"z":-0.4},{"m":9,"c":44,"z":-0.95},{"m":9,"c":45,"z":2},{"m":9,"c":46,"z":0.03},{"m":9,"c":47,"z":-0.8},{"m":9,"c":48,"z":-0.5},{"m":9,"c":49,"z":-0.01},{"m":9,"c":50,"z":0.2},{"m":9,"c":51,"z":0.05},{"m":9,"c":52,"z":-0.45},{"m":9,"c":53,"z":-1.4},{"m":9,"c":54,"z":0.2},{"m":9,"c":55,"z":0.35},{"m":9,"c":56,"z":1.65},{"m":9,"c":57,"z":-0.4},{"m":9,"c":58,"z":-1.05},{"m":9,"c":59,"z":0.85},{"m":9,"c":60,"z":0.9},{"m":9,"c":61,"z":0.75},{"m":9,"c":62,"z":0.2},{"m":9,"c":63,"z":-1.55},{"m":9,"c":64,"z":0.05},{"m":9,"c":65,"z":-0.6},{"m":9,"c":66,"z":0.7},{"m":9,"c":67,"z":0.05},{"m":9,"c":68,"z":-0.55},{"m":9,"c":69,"z":-1.75},{"m":9,"c":70,"z":-0.12},{"m":9,"c":71,"z":-0.7},{"m":9,"c":72,"z":0.05},{"m":9,"c":73,"z":-0.8},{"m":9,"c":74,"z":-1.4},{"m":9,"c":75,"z":0.45},{"m":9,"c":76,"z":-0.5},{"m":9,"c":77,"z":-0.4},{"m":9,"c":78,"z":-0.5},{"m":9,"c":79,"z":0.55},{"m":9,"c":80,"z":0.65},{"m":9,"c":81,"z":-1.15},{"m":9,"c":82,"z":-0.25},{"m":9,"c":83,"z":-1.2},{"m":9,"c":84,"z":-1.05},{"m":9,"c":85,"z":1.05},{"m":9,"c":86,"z":0.45},{"m":9,"c":87,"z":-0.7},{"m":9,"c":88,"z":-0.55},{"m":9,"c":89,"z":-1.15},{"m":9,"c":90,"z":0.2},{"m":9,"c":91,"z":-2},{"m":9,"c":92,"z":-1.15},{"m":9,"c":93,"z":-0.65},{"m":9,"c":94,"z":-1.35},{"m":9,"c":95,"z":0.2},{"m":9,"c":96,"z":0.9},{"m":9,"c":97,"z":0.4},{"m":9,"c":98,"z":0.4},{"m":9,"c":99,"z":0.95},{"m":9,"c":100,"z":0.45},{"m":9,"c":101,"z":0.4},{"m":9,"c":102,"z":0.45},{"m":9,"c":103,"z":-2},{"m":9,"c":104,"z":-1.4},{"m":9,"c":105,"z":0.4},{"m":9,"c":106,"z":2},
{"m":7,"c":0,"z":-1.4},{"m":7,"c":1,"z":0.07},{"m":7,"c":2,"z":1.55},{"m":7,"c":3,"z":-1.15},{"m":7,"c":4,"z":-0.35},{"m":7,"c":5,"z":0.25},{"m":7,"c":6,"z":-0.07},{"m":7,"c":7,"z":1},{"m":7,"c":8,"z":-0.25},{"m":7,"c":9,"z":0.95},{"m":7,"c":10,"z":-0.07},{"m":7,"c":11,"z":-1.2},{"m":7,"c":12,"z":0.12},{"m":7,"c":13,"z":1.7},{"m":7,"c":14,"z":1.5},{"m":7,"c":15,"z":0.07},{"m":7,"c":16,"z":0.5},{"m":7,"c":17,"z":-1.15},{"m":7,"c":18,"z":-0.65},{"m":7,"c":19,"z":0.85},{"m":7,"c":20,"z":-1.2},{"m":7,"c":21,"z":-0.4},{"m":7,"c":22,"z":0.7},{"m":7,"c":23,"z":1.3},{"m":7,"c":24,"z":-0.15},{"m":7,"c":25,"z":-0.07},{"m":7,"c":26,"z":-1},{"m":7,"c":27,"z":0.85},{"m":7,"c":28,"z":0.03},{"m":7,"c":29,"z":-0.05},{"m":7,"c":30,"z":0.5},{"m":7,"c":31,"z":-2},{"m":7,"c":32,"z":1.35},{"m":7,"c":33,"z":0.15},{"m":7,"c":34,"z":1.45},{"m":7,"c":35,"z":0.3},{"m":7,"c":36,"z":1.65},{"m":7,"c":37,"z":1},{"m":7,"c":38,"z":-0.95},{"m":7,"c":39,"z":-0.85},{"m":7,"c":40,"z":0.85},{"m":7,"c":41,"z":-0.5},{"m":7,"c":42,"z":1.3},{"m":7,"c":43,"z":1},{"m":7,"c":44,"z":0.25},{"m":7,"c":45,"z":0.9},{"m":7,"c":46,"z":-0.55},{"m":7,"c":47,"z":-1.5},{"m":7,"c":48,"z":-1.2},{"m":7,"c":49,"z":0.5},{"m":7,"c":50,"z":-0.55},{"m":7,"c":51,"z":0.15},{"m":7,"c":52,"z":-1},{"m":7,"c":53,"z":-0.4},{"m":7,"c":54,"z":0.1},{"m":7,"c":55,"z":-0.4},{"m":7,"c":56,"z":-0.15},{"m":7,"c":57,"z":0},{"m":7,"c":58,"z":-1.05},{"m":7,"c":59,"z":0.7},{"m":7,"c":60,"z":0.25},{"m":7,"c":61,"z":2},{"m":7,"c":62,"z":1.3},{"m":7,"c":63,"z":-1.4},{"m":7,"c":64,"z":-0.55},{"m":7,"c":65,"z":-0.2},{"m":7,"c":66,"z":0.25},{"m":7,"c":67,"z":0.65},{"m":7,"c":68,"z":0.4},{"m":7,"c":69,"z":-1.85},{"m":7,"c":70,"z":-0.1},{"m":7,"c":71,"z":-0.07},{"m":7,"c":72,"z":0.4},{"m":7,"c":73,"z":-0.4},{"m":7,"c":74,"z":-1.25},{"m":7,"c":75,"z":-0.85},{"m":7,"c":76,"z":1.5},{"m":7,"c":77,"z":0.95},{"m":7,"c":78,"z":0.85},{"m":7,"c":79,"z":0.6},{"m":7,"c":80,"z":-0.1},{"m":7,"c":81,"z":0.65},{"m":7,"c":82,"z":-0.45},{"m":7,"c":83,"z":1.1},{"m":7,"c":84,"z":1.05},{"m":7,"c":85,"z":0.12},{"m":7,"c":86,"z":0.1},{"m":7,"c":87,"z":-0.95},{"m":7,"c":88,"z":-0.8},{"m":7,"c":89,"z":-0.85},{"m":7,"c":90,"z":0.07},{"m":7,"c":91,"z":-2},{"m":7,"c":92,"z":-0.65},{"m":7,"c":93,"z":-1.25},{"m":7,"c":94,"z":-1.85},{"m":7,"c":95,"z":0.2},{"m":7,"c":96,"z":1},{"m":7,"c":97,"z":0.05},{"m":7,"c":98,"z":1.5},{"m":7,"c":99,"z":-1.45},{"m":7,"c":100,"z":0.03},{"m":7,"c":101,"z":0.1},{"m":7,"c":102,"z":1.75},{"m":7,"c":103,"z":-2},{"m":7,"c":104,"z":-1.7},{"m":7,"c":105,"z":0.2},{"m":7,"c":106,"z":0.85},
{"m":16,"c":0,"z":-1.75},{"m":16,"c":1,"z":0.25},{"m":16,"c":2,"z":-1},{"m":16,"c":3,"z":0.55},{"m":16,"c":4,"z":1.8},{"m":16,"c":5,"z":-0.05},{"m":16,"c":6,"z":0.8},{"m":16,"c":7,"z":-0.07},{"m":16,"c":8,"z":0.85},{"m":16,"c":9,"z":0.07},{"m":16,"c":10,"z":0.6},{"m":16,"c":11,"z":-0.8},{"m":16,"c":12,"z":0.2},{"m":16,"c":13,"z":0.25},{"m":16,"c":14,"z":1.45},{"m":16,"c":15,"z":1.05},{"m":16,"c":16,"z":1.3},{"m":16,"c":17,"z":-0.2},{"m":16,"c":18,"z":0.6},{"m":16,"c":19,"z":1.3},{"m":16,"c":20,"z":1.55},{"m":16,"c":21,"z":1.15},{"m":16,"c":22,"z":0.85},{"m":16,"c":23,"z":-1.35},{"m":16,"c":24,"z":-0.4},{"m":16,"c":25,"z":0.2},{"m":16,"c":26,"z":-0.45},{"m":16,"c":27,"z":0.25},{"m":16,"c":28,"z":-0.1},{"m":16,"c":29,"z":0.6},{"m":16,"c":30,"z":-1.05},{"m":16,"c":31,"z":-2},{"m":16,"c":32,"z":0.9},{"m":16,"c":33,"z":-0.03},{"m":16,"c":34,"z":-1.3},{"m":16,"c":35,"z":1.25},{"m":16,"c":36,"z":-0.35},{"m":16,"c":37,"z":0.6},{"m":16,"c":38,"z":0.1},{"m":16,"c":39,"z":0.35},{"m":16,"c":40,"z":-0.05},{"m":16,"c":41,"z":-0.7},{"m":16,"c":42,"z":-1.1},{"m":16,"c":43,"z":-1.2},{"m":16,"c":44,"z":-1.4},{"m":16,"c":45,"z":1.1},{"m":16,"c":46,"z":0.25},{"m":16,"c":47,"z":1.1},{"m":16,"c":48,"z":-0.12},{"m":16,"c":49,"z":0.4},{"m":16,"c":50,"z":0.55},{"m":16,"c":51,"z":1.55},{"m":16,"c":52,"z":-0.95},{"m":16,"c":53,"z":1.85},{"m":16,"c":54,"z":0.07},{"m":16,"c":55,"z":0},{"m":16,"c":56,"z":0.75},{"m":16,"c":57,"z":-1.25},{"m":16,"c":58,"z":0.5},{"m":16,"c":59,"z":0.25},{"m":16,"c":60,"z":1.05},{"m":16,"c":61,"z":1.2},{"m":16,"c":62,"z":1.4},{"m":16,"c":63,"z":0.25},{"m":16,"c":64,"z":-0.65},{"m":16,"c":65,"z":-1.6},{"m":16,"c":66,"z":0.08},{"m":16,"c":67,"z":0.04},{"m":16,"c":68,"z":0.12},{"m":16,"c":69,"z":-2},{"m":16,"c":70,"z":-0.4},{"m":16,"c":71,"z":-0.3},{"m":16,"c":72,"z":0.15},{"m":16,"c":73,"z":0.08},{"m":16,"c":74,"z":0.45},{"m":16,"c":75,"z":-1.05},{"m":16,"c":76,"z":-1.05},{"m":16,"c":77,"z":-0.65},{"m":16,"c":78,"z":-1.85},{"m":16,"c":79,"z":-0.2},{"m":16,"c":80,"z":0},{"m":16,"c":81,"z":-1.3},{"m":16,"c":82,"z":0.05},{"m":16,"c":83,"z":-1.4},{"m":16,"c":84,"z":-1.35},{"m":16,"c":85,"z":1.2},{"m":16,"c":86,"z":-0.2},{"m":16,"c":87,"z":-0.1},{"m":16,"c":88,"z":-1.6},{"m":16,"c":89,"z":-1.4},{"m":16,"c":90,"z":-0.05},{"m":16,"c":91,"z":-2},{"m":16,"c":92,"z":-1.6},{"m":16,"c":93,"z":-2},{"m":16,"c":94,"z":1.85},{"m":16,"c":95,"z":-0.2},{"m":16,"c":96,"z":1.15},{"m":16,"c":97,"z":1.05},{"m":16,"c":98,"z":0.45},{"m":16,"c":99,"z":0.6},{"m":16,"c":100,"z":0.3},{"m":16,"c":101,"z":0.25},{"m":16,"c":102,"z":0.07},{"m":16,"c":103,"z":-1.1},{"m":16,"c":104,"z":-0.65},{"m":16,"c":105,"z":1.6},{"m":16,"c":106,"z":0.6},
{"m":17,"c":0,"z":2},{"m":17,"c":1,"z":-0.02},{"m":17,"c":2,"z":0.3},{"m":17,"c":3,"z":0.9},{"m":17,"c":4,"z":0.4},{"m":17,"c":5,"z":0.1},{"m":17,"c":6,"z":-0.95},{"m":17,"c":7,"z":-1.6},{"m":17,"c":8,"z":0.4},{"m":17,"c":9,"z":-1.55},{"m":17,"c":10,"z":-1.1},{"m":17,"c":11,"z":-0.25},{"m":17,"c":12,"z":-0.12},{"m":17,"c":13,"z":-0.07},{"m":17,"c":14,"z":1.15},{"m":17,"c":15,"z":0.25},{"m":17,"c":16,"z":-0.85},{"m":17,"c":17,"z":-0.95},{"m":17,"c":18,"z":-1.05},{"m":17,"c":19,"z":-0.85},{"m":17,"c":20,"z":0.12},{"m":17,"c":21,"z":0.9},{"m":17,"c":22,"z":-0.4},{"m":17,"c":23,"z":1.65},{"m":17,"c":24,"z":-0.75},{"m":17,"c":25,"z":-0.4},{"m":17,"c":26,"z":-0.5},{"m":17,"c":27,"z":-0.25},{"m":17,"c":28,"z":0.12},{"m":17,"c":29,"z":-0.65},{"m":17,"c":30,"z":-1.35},{"m":17,"c":31,"z":-2},{"m":17,"c":32,"z":-0.85},{"m":17,"c":33,"z":0.3},{"m":17,"c":34,"z":0.07},{"m":17,"c":35,"z":0.08},{"m":17,"c":36,"z":1.7},{"m":17,"c":37,"z":1.85},{"m":17,"c":38,"z":-1.2},{"m":17,"c":39,"z":-0.25},{"m":17,"c":40,"z":0.3},{"m":17,"c":41,"z":1.35},{"m":17,"c":42,"z":1.05},{"m":17,"c":43,"z":1.8},{"m":17,"c":44,"z":-0.2},{"m":17,"c":45,"z":-0.95},{"m":17,"c":46,"z":-0.6},{"m":17,"c":47,"z":-0.35},{"m":17,"c":48,"z":-0.15},{"m":17,"c":49,"z":0.7},{"m":17,"c":50,"z":-0.07},{"m":17,"c":51,"z":-0.35},{"m":17,"c":52,"z":-0.55},{"m":17,"c":53,"z":-0.15},{"m":17,"c":54,"z":0.25},{"m":17,"c":55,"z":0.25},{"m":17,"c":56,"z":0.3},{"m":17,"c":57,"z":-0.35},{"m":17,"c":58,"z":-0.5},{"m":17,"c":59,"z":1.55},{"m":17,"c":60,"z":-0.65},{"m":17,"c":61,"z":-1.25},{"m":17,"c":62,"z":-1.1},{"m":17,"c":63,"z":-1.05},{"m":17,"c":64,"z":-1.1},{"m":17,"c":65,"z":-1.05},{"m":17,"c":66,"z":0.6},{"m":17,"c":67,"z":0.9},{"m":17,"c":68,"z":-0.15},{"m":17,"c":69,"z":2},{"m":17,"c":70,"z":-0.55},{"m":17,"c":71,"z":-1.25},{"m":17,"c":72,"z":0.7},{"m":17,"c":73,"z":2},{"m":17,"c":74,"z":-1.25},{"m":17,"c":75,"z":-0.2},{"m":17,"c":76,"z":0.85},{"m":17,"c":77,"z":-0.35},{"m":17,"c":78,"z":0.1},{"m":17,"c":79,"z":-0.15},{"m":17,"c":80,"z":-0.07},{"m":17,"c":81,"z":0.35},{"m":17,"c":82,"z":0.08},{"m":17,"c":83,"z":-0.02},{"m":17,"c":84,"z":1.45},{"m":17,"c":85,"z":0.9},{"m":17,"c":86,"z":-1.2},{"m":17,"c":87,"z":-0.07},{"m":17,"c":88,"z":-1.5},{"m":17,"c":89,"z":1.75},{"m":17,"c":90,"z":-0.1},{"m":17,"c":91,"z":-0.75},{"m":17,"c":92,"z":0.35},{"m":17,"c":93,"z":-0.5},{"m":17,"c":94,"z":0.35},{"m":17,"c":95,"z":0.15},{"m":17,"c":96,"z":0.7},{"m":17,"c":97,"z":0.5},{"m":17,"c":98,"z":-1.5},{"m":17,"c":99,"z":1.9},{"m":17,"c":100,"z":0.4},{"m":17,"c":101,"z":-0.25},{"m":17,"c":102,"z":-1.55},{"m":17,"c":103,"z":-0.35},{"m":17,"c":104,"z":-0.2},{"m":17,"c":105,"z":0.75},{"m":17,"c":106,"z":1.9},
{"m":29,"c":0,"z":-1.75},{"m":29,"c":1,"z":0.35},{"m":29,"c":2,"z":1.7},{"m":29,"c":3,"z":-0.85},{"m":29,"c":4,"z":-0.25},{"m":29,"c":5,"z":-0.6},{"m":29,"c":6,"z":-0.7},{"m":29,"c":7,"z":0},{"m":29,"c":8,"z":-0.25},{"m":29,"c":9,"z":-0.35},{"m":29,"c":10,"z":0.04},{"m":29,"c":11,"z":1.1},{"m":29,"c":12,"z":-0.5},{"m":29,"c":13,"z":-0.95},{"m":29,"c":14,"z":0.2},{"m":29,"c":15,"z":0},{"m":29,"c":16,"z":0.6},{"m":29,"c":17,"z":-1.55},{"m":29,"c":18,"z":-0.2},{"m":29,"c":19,"z":1.1},{"m":29,"c":20,"z":-0.07},{"m":29,"c":21,"z":1.4},{"m":29,"c":22,"z":0.85},{"m":29,"c":23,"z":0.5},{"m":29,"c":24,"z":0.12},{"m":29,"c":25,"z":-0.07},{"m":29,"c":26,"z":0.15},{"m":29,"c":27,"z":0.95},{"m":29,"c":28,"z":0.65},{"m":29,"c":29,"z":-2},{"m":29,"c":30,"z":0.45},{"m":29,"c":31,"z":-2},{"m":29,"c":32,"z":-0.02},{"m":29,"c":33,"z":0.3},{"m":29,"c":34,"z":0.08},{"m":29,"c":35,"z":1.6},{"m":29,"c":36,"z":1.5},{"m":29,"c":37,"z":1.1},{"m":29,"c":38,"z":-0.85},{"m":29,"c":39,"z":-1.5},{"m":29,"c":40,"z":2},{"m":29,"c":41,"z":-1.05},{"m":29,"c":42,"z":0.3},{"m":29,"c":43,"z":0.7},{"m":29,"c":44,"z":0.2},{"m":29,"c":45,"z":0.12},{"m":29,"c":46,"z":-0.65},{"m":29,"c":47,"z":-1.4},{"m":29,"c":48,"z":-0.95},{"m":29,"c":49,"z":0.1},{"m":29,"c":50,"z":0.2},{"m":29,"c":51,"z":0.4},{"m":29,"c":52,"z":-1.4},{"m":29,"c":53,"z":0.7},{"m":29,"c":54,"z":0.25},{"m":29,"c":55,"z":-0.2},{"m":29,"c":56,"z":0.03},{"m":29,"c":57,"z":0.55},{"m":29,"c":58,"z":0.03},{"m":29,"c":59,"z":0.95},{"m":29,"c":60,"z":0.8},{"m":29,"c":61,"z":0.1},{"m":29,"c":62,"z":2},{"m":29,"c":63,"z":-0.85},{"m":29,"c":64,"z":-2},{"m":29,"c":65,"z":-0.35},{"m":29,"c":66,"z":0.12},{"m":29,"c":67,"z":-0.35},{"m":29,"c":68,"z":0.08},{"m":29,"c":69,"z":0.6},{"m":29,"c":70,"z":0.4},{"m":29,"c":71,"z":-0.05},{"m":29,"c":72,"z":0.25},{"m":29,"c":73,"z":1.1},{"m":29,"c":74,"z":-0.9},{"m":29,"c":75,"z":-0.45},{"m":29,"c":76,"z":0.3},{"m":29,"c":77,"z":0.7},{"m":29,"c":78,"z":0.3},{"m":29,"c":79,"z":-0.2},{"m":29,"c":80,"z":-0.4},{"m":29,"c":81,"z":-0.7},{"m":29,"c":82,"z":-0.25},{"m":29,"c":83,"z":-0.12},{"m":29,"c":84,"z":0.2},{"m":29,"c":85,"z":0.6},{"m":29,"c":86,"z":-1.15},{"m":29,"c":87,"z":-0.7},{"m":29,"c":88,"z":-1},{"m":29,"c":89,"z":-1.65},{"m":29,"c":90,"z":0.2},{"m":29,"c":91,"z":-0.85},{"m":29,"c":92,"z":0.85},{"m":29,"c":93,"z":-1.15},{"m":29,"c":94,"z":-1.15},{"m":29,"c":95,"z":0.12},{"m":29,"c":96,"z":2},{"m":29,"c":97,"z":0.65},{"m":29,"c":98,"z":0},{"m":29,"c":99,"z":0.2},{"m":29,"c":100,"z":-0.3},{"m":29,"c":101,"z":0.08},{"m":29,"c":102,"z":0.3},{"m":29,"c":103,"z":-1.65},{"m":29,"c":104,"z":-1.9},{"m":29,"c":105,"z":0.65},{"m":29,"c":106,"z":2},
{"m":15,"c":0,"z":-1.5},{"m":15,"c":1,"z":-0.3},{"m":15,"c":2,"z":0.5},{"m":15,"c":3,"z":-0.4},{"m":15,"c":4,"z":-0.5},{"m":15,"c":5,"z":-0.4},{"m":15,"c":6,"z":0.08},{"m":15,"c":7,"z":0.08},{"m":15,"c":8,"z":1.1},{"m":15,"c":9,"z":0.8},{"m":15,"c":10,"z":-1.35},{"m":15,"c":11,"z":-1.15},{"m":15,"c":12,"z":-0.5},{"m":15,"c":13,"z":-0.7},{"m":15,"c":14,"z":-0.03},{"m":15,"c":15,"z":0.6},{"m":15,"c":16,"z":2},{"m":15,"c":17,"z":-1.05},{"m":15,"c":18,"z":-0.4},{"m":15,"c":19,"z":0.65},{"m":15,"c":20,"z":1.7},{"m":15,"c":21,"z":0.25},{"m":15,"c":22,"z":0.3},{"m":15,"c":23,"z":0.8},{"m":15,"c":24,"z":-0.25},{"m":15,"c":25,"z":0.9},{"m":15,"c":26,"z":0.65},{"m":15,"c":27,"z":-0.07},{"m":15,"c":28,"z":1.05},{"m":15,"c":29,"z":-1.2},{"m":15,"c":30,"z":-0.3},{"m":15,"c":31,"z":0},{"m":15,"c":32,"z":-1.75},{"m":15,"c":33,"z":0.55},{"m":15,"c":34,"z":0.65},{"m":15,"c":35,"z":-0.6},{"m":15,"c":36,"z":-0.6},{"m":15,"c":37,"z":0.65},{"m":15,"c":38,"z":-2},{"m":15,"c":39,"z":-0.4},{"m":15,"c":40,"z":0.75},{"m":15,"c":41,"z":-1},{"m":15,"c":42,"z":0.55},{"m":15,"c":43,"z":0.7},{"m":15,"c":44,"z":0.2},{"m":15,"c":45,"z":-1.9},{"m":15,"c":46,"z":-1.3},{"m":15,"c":47,"z":-0.02},{"m":15,"c":48,"z":0.12},{"m":15,"c":49,"z":0.35},{"m":15,"c":50,"z":1.25},{"m":15,"c":51,"z":-0.1},{"m":15,"c":52,"z":-0.35},{"m":15,"c":53,"z":0.05},{"m":15,"c":54,"z":0.3},{"m":15,"c":55,"z":0.55},{"m":15,"c":56,"z":0.65},{"m":15,"c":57,"z":1.3},{"m":15,"c":58,"z":0.75},{"m":15,"c":59,"z":0.55},{"m":15,"c":60,"z":-0.7},{"m":15,"c":61,"z":0.15},{"m":15,"c":62,"z":0.3},{"m":15,"c":63,"z":1.05},{"m":15,"c":64,"z":-1.6},{"m":15,"c":65,"z":-0.45},{"m":15,"c":66,"z":0.7},{"m":15,"c":67,"z":-0.45},{"m":15,"c":68,"z":-1.15},{"m":15,"c":69,"z":-0.7},{"m":15,"c":70,"z":-0.02},{"m":15,"c":71,"z":-0.7},{"m":15,"c":72,"z":0.3},{"m":15,"c":73,"z":-0.85},{"m":15,"c":74,"z":1},{"m":15,"c":75,"z":0.7},{"m":15,"c":76,"z":1.15},{"m":15,"c":77,"z":0.9},{"m":15,"c":78,"z":-0.12},{"m":15,"c":79,"z":-0.95},{"m":15,"c":80,"z":0.2},{"m":15,"c":81,"z":0.12},{"m":15,"c":82,"z":-0.85},{"m":15,"c":83,"z":0.5},{"m":15,"c":84,"z":1},{"m":15,"c":85,"z":-0.03},{"m":15,"c":86,"z":-1.8},{"m":15,"c":87,"z":0.55},{"m":15,"c":88,"z":-1.4},{"m":15,"c":89,"z":-1.1},{"m":15,"c":90,"z":0.55},{"m":15,"c":91,"z":-2},{"m":15,"c":92,"z":-1},{"m":15,"c":93,"z":-1.7},{"m":15,"c":94,"z":1.15},{"m":15,"c":95,"z":1.05},{"m":15,"c":96,"z":-0.07},{"m":15,"c":97,"z":0.3},{"m":15,"c":98,"z":-0.1},{"m":15,"c":99,"z":2},{"m":15,"c":100,"z":0.8},{"m":15,"c":101,"z":-0.3},{"m":15,"c":102,"z":0.3},{"m":15,"c":103,"z":-2},{"m":15,"c":104,"z":-1.55},{"m":15,"c":105,"z":1.85},{"m":15,"c":106,"z":0.2},
{"m":22,"c":0,"z":-1.85},{"m":22,"c":1,"z":-0.8},{"m":22,"c":2,"z":2},{"m":22,"c":3,"z":0.02},{"m":22,"c":4,"z":1.15},{"m":22,"c":5,"z":0.6},{"m":22,"c":6,"z":-1.4},{"m":22,"c":7,"z":-0.7},{"m":22,"c":8,"z":-0.15},{"m":22,"c":9,"z":0.3},{"m":22,"c":10,"z":0.3},{"m":22,"c":11,"z":0.08},{"m":22,"c":12,"z":-0.07},{"m":22,"c":13,"z":-0.8},{"m":22,"c":14,"z":1.25},{"m":22,"c":15,"z":1},{"m":22,"c":16,"z":-0.8},{"m":22,"c":17,"z":-1.45},{"m":22,"c":18,"z":-1.3},{"m":22,"c":19,"z":1.3},{"m":22,"c":20,"z":0.3},{"m":22,"c":21,"z":-0.02},{"m":22,"c":22,"z":-0.12},{"m":22,"c":23,"z":0.55},{"m":22,"c":24,"z":-1.5},{"m":22,"c":25,"z":0.02},{"m":22,"c":26,"z":-0.8},{"m":22,"c":27,"z":1.8},{"m":22,"c":28,"z":0.15},{"m":22,"c":29,"z":-1.2},{"m":22,"c":30,"z":-1.35},{"m":22,"c":31,"z":-2},{"m":22,"c":32,"z":0.08},{"m":22,"c":33,"z":-0.12},{"m":22,"c":34,"z":-0.75},{"m":22,"c":35,"z":0.6},{"m":22,"c":36,"z":0.7},{"m":22,"c":37,"z":1.35},{"m":22,"c":38,"z":-0.8},{"m":22,"c":39,"z":0.3},{"m":22,"c":40,"z":1.5},{"m":22,"c":41,"z":0.6},{"m":22,"c":42,"z":0.3},{"m":22,"c":43,"z":0.3},{"m":22,"c":44,"z":-0.2},{"m":22,"c":45,"z":0.02},{"m":22,"c":46,"z":-0.55},{"m":22,"c":47,"z":-0.45},{"m":22,"c":48,"z":-0.55},{"m":22,"c":49,"z":0.8},{"m":22,"c":50,"z":0.9},{"m":22,"c":51,"z":-0.07},{"m":22,"c":52,"z":-0.5},{"m":22,"c":53,"z":-1.4},{"m":22,"c":54,"z":1.4},{"m":22,"c":55,"z":-0.2},{"m":22,"c":56,"z":0.85},{"m":22,"c":57,"z":-0.2},{"m":22,"c":58,"z":2},{"m":22,"c":59,"z":1.1},{"m":22,"c":60,"z":0.7},{"m":22,"c":61,"z":0.25},{"m":22,"c":62,"z":1.7},{"m":22,"c":63,"z":2},{"m":22,"c":64,"z":0.08},{"m":22,"c":65,"z":-1.05},{"m":22,"c":66,"z":0.15},{"m":22,"c":67,"z":0.25},{"m":22,"c":68,"z":0.3},{"m":22,"c":69,"z":0.5},{"m":22,"c":70,"z":-0.4},{"m":22,"c":71,"z":-1.45},{"m":22,"c":72,"z":-0.45},{"m":22,"c":73,"z":-0.4},{"m":22,"c":74,"z":-0.65},{"m":22,"c":75,"z":0.9},{"m":22,"c":76,"z":-0.5},{"m":22,"c":77,"z":-0.7},{"m":22,"c":78,"z":-1.5},{"m":22,"c":79,"z":-0.55},{"m":22,"c":80,"z":0.95},{"m":22,"c":81,"z":-0.2},{"m":22,"c":82,"z":1.65},{"m":22,"c":83,"z":-0.95},{"m":22,"c":84,"z":0.03},{"m":22,"c":85,"z":1.25},{"m":22,"c":86,"z":-0.5},{"m":22,"c":87,"z":-0.5},{"m":22,"c":88,"z":-2},{"m":22,"c":89,"z":-0.9},{"m":22,"c":90,"z":0.3},{"m":22,"c":91,"z":-1.95},{"m":22,"c":92,"z":-0.85},{"m":22,"c":93,"z":-0.9},{"m":22,"c":94,"z":-0.05},{"m":22,"c":95,"z":0.5},{"m":22,"c":96,"z":1.5},{"m":22,"c":97,"z":1.15},{"m":22,"c":98,"z":-0.3},{"m":22,"c":99,"z":0.95},{"m":22,"c":100,"z":-0.2},{"m":22,"c":101,"z":-0.7},{"m":22,"c":102,"z":-0.12},{"m":22,"c":103,"z":-0.12},{"m":22,"c":104,"z":-0.2},{"m":22,"c":105,"z":1.85},{"m":22,"c":106,"z":0.08},
{"m":18,"c":0,"z":-1.4},{"m":18,"c":1,"z":-0.8},{"m":18,"c":2,"z":-0.2},{"m":18,"c":3,"z":0.07},{"m":18,"c":4,"z":0.25},{"m":18,"c":5,"z":-0.2},{"m":18,"c":6,"z":-0.65},{"m":18,"c":7,"z":1.25},{"m":18,"c":8,"z":0.07},{"m":18,"c":9,"z":-0.25},{"m":18,"c":10,"z":1.8},{"m":18,"c":11,"z":1},{"m":18,"c":12,"z":0.65},{"m":18,"c":13,"z":1.8},{"m":18,"c":14,"z":-0.45},{"m":18,"c":15,"z":0.1},{"m":18,"c":16,"z":1.15},{"m":18,"c":17,"z":-0.45},{"m":18,"c":18,"z":2},{"m":18,"c":19,"z":2},{"m":18,"c":20,"z":0.02},{"m":18,"c":21,"z":1.5},{"m":18,"c":22,"z":0.3},{"m":18,"c":23,"z":-0.6},{"m":18,"c":24,"z":-1.15},{"m":18,"c":25,"z":-0.15},{"m":18,"c":26,"z":-0.7},{"m":18,"c":27,"z":0.15},{"m":18,"c":28,"z":-0.45},{"m":18,"c":29,"z":-0.95},{"m":18,"c":30,"z":-1.2},{"m":18,"c":31,"z":-1.85},{"m":18,"c":32,"z":-0.25},{"m":18,"c":33,"z":-0.5},{"m":18,"c":34,"z":-0.6},{"m":18,"c":35,"z":0.07},{"m":18,"c":36,"z":2},{"m":18,"c":37,"z":-0.5},{"m":18,"c":38,"z":-0.8},{"m":18,"c":39,"z":-0.45},{"m":18,"c":40,"z":0.15},{"m":18,"c":41,"z":-0.4},{"m":18,"c":42,"z":-0.45},{"m":18,"c":43,"z":-0.6},{"m":18,"c":44,"z":-0.25},{"m":18,"c":45,"z":-0.45},{"m":18,"c":46,"z":-0.3},{"m":18,"c":47,"z":-0.35},{"m":18,"c":48,"z":-0.9},{"m":18,"c":49,"z":0.2},{"m":18,"c":50,"z":-0.05},{"m":18,"c":51,"z":0.55},{"m":18,"c":52,"z":0.03},{"m":18,"c":53,"z":1.1},{"m":18,"c":54,"z":-0.12},{"m":18,"c":55,"z":-0.55},{"m":18,"c":56,"z":0.35},{"m":18,"c":57,"z":0.5},{"m":18,"c":58,"z":0.03},{"m":18,"c":59,"z":0.12},{"m":18,"c":60,"z":1.4},{"m":18,"c":61,"z":0.95},{"m":18,"c":62,"z":1.1},{"m":18,"c":63,"z":-0.6},{"m":18,"c":64,"z":-1.15},{"m":18,"c":65,"z":-0.5},{"m":18,"c":66,"z":-0.3},{"m":18,"c":67,"z":0.12},{"m":18,"c":68,"z":-0.02},{"m":18,"c":69,"z":-0.4},{"m":18,"c":70,"z":-0.7},{"m":18,"c":71,"z":-0.95},{"m":18,"c":72,"z":-0.12},{"m":18,"c":73,"z":0.7},{"m":18,"c":74,"z":-0.35},{"m":18,"c":75,"z":-0.65},{"m":18,"c":76,"z":-0.95},{"m":18,"c":77,"z":-0.5},{"m":18,"c":78,"z":-1.25},{"m":18,"c":79,"z":-0.55},{"m":18,"c":80,"z":-0.4},{"m":18,"c":81,"z":-0.6},{"m":18,"c":82,"z":0.08},{"m":18,"c":83,"z":-0.55},{"m":18,"c":84,"z":-0.5},{"m":18,"c":85,"z":-0.03},{"m":18,"c":86,"z":-0.05},{"m":18,"c":87,"z":-0.4},{"m":18,"c":88,"z":-1.35},{"m":18,"c":89,"z":-1.3},{"m":18,"c":90,"z":-0.12},{"m":18,"c":91,"z":0.1},{"m":18,"c":92,"z":1.85},{"m":18,"c":93,"z":0.2},{"m":18,"c":94,"z":-0.07},{"m":18,"c":95,"z":0.25},{"m":18,"c":96,"z":0.12},{"m":18,"c":97,"z":0.45},{"m":18,"c":98,"z":1.1},{"m":18,"c":99,"z":-0.35},{"m":18,"c":100,"z":-0.5},{"m":18,"c":101,"z":-0.05},{"m":18,"c":102,"z":1.6},{"m":18,"c":103,"z":0.1},{"m":18,"c":104,"z":0.7},{"m":18,"c":105,"z":0.65},{"m":18,"c":106,"z":0.03},
{"m":20,"c":0,"z":-0.6},{"m":20,"c":1,"z":-0.7},{"m":20,"c":2,"z":-1},{"m":20,"c":3,"z":-0.95},{"m":20,"c":4,"z":-0.02},{"m":20,"c":5,"z":-0.1},{"m":20,"c":6,"z":0.2},{"m":20,"c":7,"z":-0.8},{"m":20,"c":8,"z":0.7},{"m":20,"c":9,"z":-0.12},{"m":20,"c":10,"z":0.12},{"m":20,"c":11,"z":-1},{"m":20,"c":12,"z":-0.6},{"m":20,"c":13,"z":2},{"m":20,"c":14,"z":-0.4},{"m":20,"c":15,"z":-0.3},{"m":20,"c":16,"z":-1.1},{"m":20,"c":17,"z":-0.12},{"m":20,"c":18,"z":-0.4},{"m":20,"c":19,"z":-0.95},{"m":20,"c":20,"z":0},{"m":20,"c":21,"z":-0.3},{"m":20,"c":22,"z":0.8},{"m":20,"c":23,"z":-0.35},{"m":20,"c":24,"z":-1.1},{"m":20,"c":25,"z":0.65},{"m":20,"c":26,"z":-0.45},{"m":20,"c":27,"z":0.65},{"m":20,"c":28,"z":1.85},{"m":20,"c":29,"z":0.1},{"m":20,"c":30,"z":-1.1},{"m":20,"c":31,"z":-1.1},{"m":20,"c":32,"z":0.12},{"m":20,"c":33,"z":-0.5},{"m":20,"c":34,"z":-0.05},{"m":20,"c":35,"z":-0.2},{"m":20,"c":36,"z":0.2},{"m":20,"c":37,"z":0.3},{"m":20,"c":38,"z":0.95},{"m":20,"c":39,"z":-0.4},{"m":20,"c":40,"z":2},{"m":20,"c":41,"z":-0.6},{"m":20,"c":42,"z":0.25},{"m":20,"c":43,"z":-0.3},{"m":20,"c":44,"z":0.5},{"m":20,"c":45,"z":1.2},{"m":20,"c":46,"z":-0.25},{"m":20,"c":47,"z":1.05},{"m":20,"c":48,"z":1.2},{"m":20,"c":49,"z":-0.15},{"m":20,"c":50,"z":0.55},{"m":20,"c":51,"z":1.65},{"m":20,"c":52,"z":0.2},{"m":20,"c":53,"z":-1.1},{"m":20,"c":54,"z":1.65},{"m":20,"c":55,"z":-0.6},{"m":20,"c":56,"z":-0.45},{"m":20,"c":57,"z":0.65},{"m":20,"c":58,"z":-0.35},{"m":20,"c":59,"z":0.12},{"m":20,"c":60,"z":-1.05},{"m":20,"c":61,"z":-0.65},{"m":20,"c":62,"z":-1},{"m":20,"c":63,"z":-1},{"m":20,"c":64,"z":2},{"m":20,"c":65,"z":2},{"m":20,"c":66,"z":-0.55},{"m":20,"c":67,"z":0.15},{"m":20,"c":68,"z":-1.1},{"m":20,"c":69,"z":0.9},{"m":20,"c":70,"z":-0.8},{"m":20,"c":71,"z":-0.8},{"m":20,"c":72,"z":-0.85},{"m":20,"c":73,"z":-0.5},{"m":20,"c":74,"z":-0.9},{"m":20,"c":75,"z":1.7},{"m":20,"c":76,"z":-0.2},{"m":20,"c":77,"z":1.6},{"m":20,"c":78,"z":-0.2},{"m":20,"c":79,"z":-0.02},{"m":20,"c":80,"z":1.15},{"m":20,"c":81,"z":0.25},{"m":20,"c":82,"z":-0.03},{"m":20,"c":83,"z":-0.45},{"m":20,"c":84,"z":-0.45},{"m":20,"c":85,"z":1.7},{"m":20,"c":86,"z":-0.7},{"m":20,"c":87,"z":-0.7},{"m":20,"c":88,"z":-0.2},{"m":20,"c":89,"z":-0.6},{"m":20,"c":90,"z":-0.65},{"m":20,"c":91,"z":-1.1},{"m":20,"c":92,"z":-0.9},{"m":20,"c":93,"z":-0.8},{"m":20,"c":94,"z":1.15},{"m":20,"c":95,"z":-0.6},{"m":20,"c":96,"z":-0.4},{"m":20,"c":97,"z":1},{"m":20,"c":98,"z":-0.6},{"m":20,"c":99,"z":0.15},{"m":20,"c":100,"z":-0.4},{"m":20,"c":101,"z":0.75},{"m":20,"c":102,"z":0.12},{"m":20,"c":103,"z":-0.85},{"m":20,"c":104,"z":-0.55},{"m":20,"c":105,"z":-0.6},{"m":20,"c":106,"z":0.4}
]},"layer":[{"mark":{"type":"rect","stroke":"white","strokeWidth":2.5},"encoding":{"x":{"field":"c","type":"ordinal","scale":{"domain":[0,1,2,3,4,5,6,7,8,9,10,11,12,13,14,15,16,17,18,19,20,21,22,23,24,25,26,27,28,29,30,31,32,33,34,35,36,37,38,39,40,41,42,43,44,45,46,47,48,49,50,51,52,53,54,55,56,57,58,59,60,61,62,63,64,65,66,67,68,69,70,71,72,73,74,75,76,77,78,79,80,81,82,83,84,85,86,87,88,89,90,91,92,93,94,95,96,97,98,99,100,101,102,103,104,105,106],"paddingInner":0,"paddingOuter":0},"axis":{"title":"Cell Type","titlePadding":140,"labelAngle":-45,"labelAlign":"right","labelBaseline":"bottom","labelPadding":21,"values":[0,2,4,6,8,10,12,14,16,18,20,22,24,26,28,30,32,34,36,38,40,42,44,46,48,50,52,54,56,58,60,62,64,66,68,70,72,74,76,78,80,82,84,86,88,90,92,94,96,98,100,102,104,106],"labelExpr":"['Acinar cells','Adipocytes','Alveolar type 2 cells','Astrocytes','Basal cells','Bipolar cells','Cholangiocytes','Ciliated cells','Common myeloid progenitors','Cycling B cells','Cycling epithelial cells','Dendritic cells','Endoneurial cells','Enteric glial cells','Enterocytes','Epineurial cells','Excitatory neurons','Fibrocartilage chondrocytes','Glandular cells','Granule cells','Hematopoietic stem and progenitor cells','Homeostatic chondrocytes','Inflammatory chondrocytes','Intercalated cells','Kupffer cells','Macrophages','Medullary thymus epithelial cells','Melanocytes','Mesothelial cells','Monocytes','Muller cells','Natural killer cells','Oligodendrocyte progenitor cells','Other stromal cells','Pancreas islet cells','Pericytes','Peritubular myoid cells','Platelets','Pre-hypertrophic chondrocytes','Precursor fibrocartilage chondrocytes','Progenitor-like epithelial cells','Proximal tubule cells','Reparative chondrocytes','Rod cells','Schwann cells','Smooth muscle cells','Spermatocytes','Squamous cells','Supporting cells of vestibular epithelium','T cells','Tendon cells','Thymocytes','Type II myonuclei','Vestibular dark cells'][datum.value/2]"}},"y":{"field":"m","type":"ordinal","scale":{"domain":[13,25,11,28,1,26,19,12,23,8,2,21,3,14,4,24,6,10,30,27,5,9,7,16,17,29,15,22,18,20],"paddingInner":0,"paddingOuter":0},"axis":{"title":"Module","titlePadding":12,"labelAngle":0,"labelExpr":"'Module_'+datum.value"}},"color":{"field":"z","type":"quantitative","scale":{"domain":[-2,-1.6,-1.2,-0.8,-0.4,0,0.4,0.8,1.2,1.6,2],"range":["#053061","#2166ac","#4393c3","#92c5de","#d1e5f0","#f7f7f7","#fddbc7","#f4a582","#d6604d","#b2182b","#67001f"],"clamp":true},"legend":{"orient":"none","legendX":1606,"legendY":104,"title":null,"direction":"vertical","type":"gradient","gradientLength":843,"gradientThickness":42,"labelOffset":16,"values":[-2,-1.5,-1,-0.5,0,0.5,1,1.5,2],"format":".1f","gradientStrokeWidth":0,"encode":{"labels":{"update":{"baseline":{"value":"middle"}}}}}}}},{"mark":{"type":"rect","opacity":0},"encoding":{"y":{"field":"m","type":"ordinal","scale":{"domain":[13,25,11,28,1,26,19,12,23,8,2,21,3,14,4,24,6,10,30,27,5,9,7,16,17,29,15,22,18,20],"paddingInner":0,"paddingOuter":0},"axis":{"orient":"right","title":"Z-score","titleFontWeight":"normal","titleFontSize":20.8,"titleAngle":270,"titlePadding":231,"labels":false,"ticks":false}}}}],"resolve":{"axis":{"y":"independent"}}}
